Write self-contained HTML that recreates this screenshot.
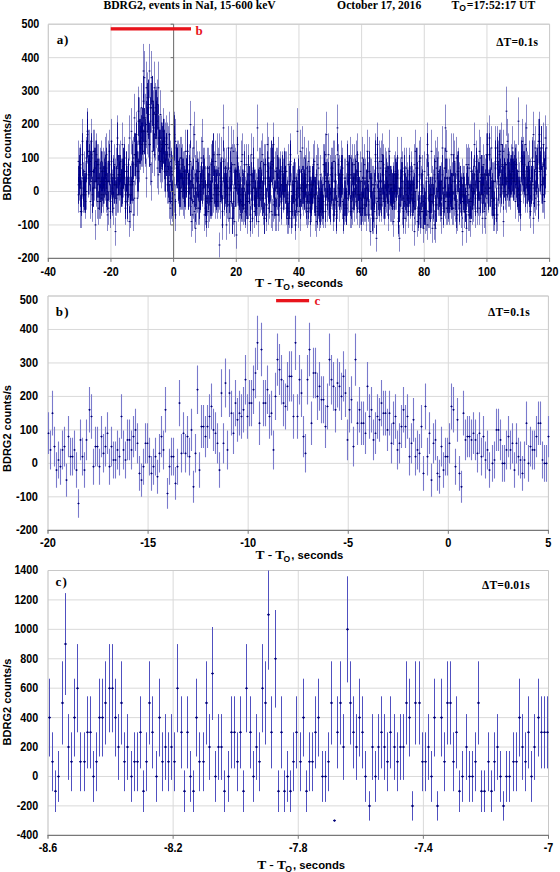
<!DOCTYPE html><html><head><meta charset="utf-8"><style>
*{margin:0;padding:0}
html,body{width:560px;height:872px;overflow:hidden;background:#fff}
svg{display:block}
.tk{font-family:"Liberation Sans",sans-serif;font-weight:bold;font-size:11px;fill:#000}
.xt{font-family:"Liberation Sans",sans-serif;font-weight:bold;font-size:11.3px;fill:#000}
.xsub{font-family:"Liberation Sans",sans-serif;font-weight:bold;font-size:8.6px;fill:#000}
.xts{font-family:"Liberation Serif",serif;font-size:13.5px}
.yt{font-family:"Liberation Sans",sans-serif;font-weight:bold;font-size:11px;fill:#000}
.pl{font-family:"Liberation Serif",serif;font-weight:bold;font-size:13px;fill:#000}
.dt{font-family:"Liberation Serif",serif;font-weight:bold;font-size:11.5px;fill:#000;letter-spacing:0.25px}
.rl{font-family:"Liberation Serif",serif;font-weight:bold;font-size:13px;fill:#e8141c}
.hd{font-family:"Liberation Serif",serif;font-weight:bold;font-size:11.65px;fill:#000}
.hsub{font-family:"Liberation Sans",sans-serif;font-weight:bold;font-size:8.6px}
.ea{stroke:#00008a;stroke-width:1;stroke-opacity:0.12;fill:none}
.ead{stroke:#000070;stroke-width:1;fill:none}
.eb{stroke:#7a7acc;stroke-width:1.1;fill:none}
.ebd{fill:#00007a;stroke:none}
.ec{stroke:#5050c0;stroke-width:1;fill:none}
.ecd{fill:#00007a;stroke:none}
</style></head><body><svg width="560" height="872" viewBox="0 0 560 872">
<rect width="560" height="872" fill="#fff"/>
<line x1="48.30" y1="224.94" x2="549.60" y2="224.94" stroke="#d9d9d9" stroke-width="1"/>
<line x1="48.30" y1="191.49" x2="549.60" y2="191.49" stroke="#d9d9d9" stroke-width="1"/>
<line x1="48.30" y1="158.03" x2="549.60" y2="158.03" stroke="#d9d9d9" stroke-width="1"/>
<line x1="48.30" y1="124.57" x2="549.60" y2="124.57" stroke="#d9d9d9" stroke-width="1"/>
<line x1="48.30" y1="91.11" x2="549.60" y2="91.11" stroke="#d9d9d9" stroke-width="1"/>
<line x1="48.30" y1="57.66" x2="549.60" y2="57.66" stroke="#d9d9d9" stroke-width="1"/>
<line x1="48.30" y1="24.20" x2="549.60" y2="24.20" stroke="#d9d9d9" stroke-width="1"/>
<line x1="110.96" y1="24.20" x2="110.96" y2="258.40" stroke="#d9d9d9" stroke-width="1"/>
<line x1="173.62" y1="24.20" x2="173.62" y2="258.40" stroke="#d9d9d9" stroke-width="1"/>
<line x1="236.29" y1="24.20" x2="236.29" y2="258.40" stroke="#d9d9d9" stroke-width="1"/>
<line x1="298.95" y1="24.20" x2="298.95" y2="258.40" stroke="#d9d9d9" stroke-width="1"/>
<line x1="361.61" y1="24.20" x2="361.61" y2="258.40" stroke="#d9d9d9" stroke-width="1"/>
<line x1="424.28" y1="24.20" x2="424.28" y2="258.40" stroke="#d9d9d9" stroke-width="1"/>
<line x1="486.94" y1="24.20" x2="486.94" y2="258.40" stroke="#d9d9d9" stroke-width="1"/>
<polyline points="48.30,24.20 549.60,24.20 549.60,258.40" fill="none" stroke="#c8c8c8" stroke-width="1"/>
<line x1="48.30" y1="24.20" x2="48.30" y2="261.40" stroke="#c8c8c8" stroke-width="1.2"/>
<line x1="48.00" y1="496.83" x2="548.40" y2="496.83" stroke="#d9d9d9" stroke-width="1"/>
<line x1="48.00" y1="463.36" x2="548.40" y2="463.36" stroke="#d9d9d9" stroke-width="1"/>
<line x1="48.00" y1="429.89" x2="548.40" y2="429.89" stroke="#d9d9d9" stroke-width="1"/>
<line x1="48.00" y1="396.41" x2="548.40" y2="396.41" stroke="#d9d9d9" stroke-width="1"/>
<line x1="48.00" y1="362.94" x2="548.40" y2="362.94" stroke="#d9d9d9" stroke-width="1"/>
<line x1="48.00" y1="329.47" x2="548.40" y2="329.47" stroke="#d9d9d9" stroke-width="1"/>
<line x1="48.00" y1="296.00" x2="548.40" y2="296.00" stroke="#d9d9d9" stroke-width="1"/>
<line x1="148.08" y1="296.00" x2="148.08" y2="530.30" stroke="#d9d9d9" stroke-width="1"/>
<line x1="248.16" y1="296.00" x2="248.16" y2="530.30" stroke="#d9d9d9" stroke-width="1"/>
<line x1="348.24" y1="296.00" x2="348.24" y2="530.30" stroke="#d9d9d9" stroke-width="1"/>
<line x1="448.32" y1="296.00" x2="448.32" y2="530.30" stroke="#d9d9d9" stroke-width="1"/>
<polyline points="48.00,296.00 548.40,296.00 548.40,530.30" fill="none" stroke="#c8c8c8" stroke-width="1"/>
<line x1="48.00" y1="296.00" x2="48.00" y2="533.30" stroke="#c8c8c8" stroke-width="1.2"/>
<line x1="48.00" y1="805.88" x2="548.50" y2="805.88" stroke="#d9d9d9" stroke-width="1"/>
<line x1="48.00" y1="776.46" x2="548.50" y2="776.46" stroke="#d9d9d9" stroke-width="1"/>
<line x1="48.00" y1="747.03" x2="548.50" y2="747.03" stroke="#d9d9d9" stroke-width="1"/>
<line x1="48.00" y1="717.61" x2="548.50" y2="717.61" stroke="#d9d9d9" stroke-width="1"/>
<line x1="48.00" y1="688.19" x2="548.50" y2="688.19" stroke="#d9d9d9" stroke-width="1"/>
<line x1="48.00" y1="658.77" x2="548.50" y2="658.77" stroke="#d9d9d9" stroke-width="1"/>
<line x1="48.00" y1="629.34" x2="548.50" y2="629.34" stroke="#d9d9d9" stroke-width="1"/>
<line x1="48.00" y1="599.92" x2="548.50" y2="599.92" stroke="#d9d9d9" stroke-width="1"/>
<line x1="48.00" y1="570.50" x2="548.50" y2="570.50" stroke="#d9d9d9" stroke-width="1"/>
<line x1="173.13" y1="570.50" x2="173.13" y2="835.30" stroke="#d9d9d9" stroke-width="1"/>
<line x1="298.25" y1="570.50" x2="298.25" y2="835.30" stroke="#d9d9d9" stroke-width="1"/>
<line x1="423.38" y1="570.50" x2="423.38" y2="835.30" stroke="#d9d9d9" stroke-width="1"/>
<polyline points="48.00,570.50 548.50,570.50 548.50,835.30" fill="none" stroke="#c8c8c8" stroke-width="1"/>
<line x1="48.00" y1="570.50" x2="48.00" y2="838.30" stroke="#c8c8c8" stroke-width="1.2"/>
<defs><filter id="fa" x="0" y="0" width="560" height="300" filterUnits="userSpaceOnUse" color-interpolation-filters="sRGB"><feComponentTransfer><feFuncA type="table" tableValues="0 0.36 0.86 1 1 1 1 1 1 1 1"/></feComponentTransfer></filter></defs>
<g filter="url(#fa)">
<path class="ea" d="M78.50 176.8V212.8M79.50 147.7V188.4M80.50 195.2V228.0M81.50 195.2V228.0M83.50 162.2V200.7M84.50 173.2V209.8M85.50 162.2V200.7M86.50 136.9V179.2M88.50 158.6V197.6M89.50 155.0V194.6M90.50 184.1V218.9M91.50 136.9V179.2M93.50 129.7V173.0M94.50 162.2V200.7M95.50 210.0V239.9M96.50 162.2V200.7M98.50 158.6V197.6M99.50 158.6V197.6M100.50 184.1V218.9M101.50 180.5V215.9M103.50 165.9V203.7M104.50 151.3V191.5M105.50 155.0V194.6M106.50 169.5V206.8M108.50 140.5V182.3M109.50 129.7V173.0M110.50 173.2V209.8M111.50 155.0V194.6M113.50 158.6V197.6M114.50 165.9V203.7M115.50 217.4V245.8M117.50 147.7V188.4M118.50 155.0V194.6M119.50 162.2V200.7M120.50 155.0V194.6M122.50 165.9V203.7M123.50 147.7V188.4M124.50 136.9V179.2M125.50 176.8V212.8M127.50 184.1V218.9M128.50 162.2V200.7M129.50 206.3V236.9M130.50 195.2V228.0M132.50 140.5V182.3M133.50 136.9V179.2M134.50 180.5V215.9M135.50 133.3V176.1M137.50 140.5V182.3M138.50 151.3V191.5M139.50 118.9V163.7M140.50 118.9V163.7M142.50 122.5V166.8M143.50 75.9V126.4M144.50 108.1V154.4M145.50 118.9V163.7M147.50 72.3V123.3M148.50 90.2V138.9M149.50 43.9V98.2M150.50 144.1V185.3M152.50 129.7V173.0M153.50 90.2V138.9M154.50 111.7V157.5M155.50 115.3V160.6M157.50 79.5V129.5M158.50 104.5V151.3M159.50 115.3V160.6M160.50 90.2V138.9M162.50 140.5V182.3M163.50 118.9V163.7M164.50 151.3V191.5M165.50 151.3V191.5M167.50 122.5V166.8M168.50 165.9V203.7M169.50 184.1V218.9M170.50 191.5V224.9M172.50 187.8V221.9M173.50 165.9V203.7M174.50 176.8V212.8M175.50 118.9V163.7M177.50 147.7V188.4M178.50 140.5V182.3M179.50 158.6V197.6M180.50 136.9V179.2M182.50 173.2V209.8M183.50 151.3V191.5M184.50 169.5V206.8M185.50 173.2V209.8M187.50 144.1V185.3M188.50 173.2V209.8M189.50 155.0V194.6M190.50 180.5V215.9M192.50 147.7V188.4M193.50 126.1V169.9M194.50 169.5V206.8M195.50 173.2V209.8M197.50 158.6V197.6M198.50 158.6V197.6M199.50 184.1V218.9M200.50 173.2V209.8M202.50 169.5V206.8M203.50 162.2V200.7M204.50 147.7V188.4M205.50 180.5V215.9M207.50 147.7V188.4M208.50 147.7V188.4M209.50 187.8V221.9M211.50 144.1V185.3M212.50 140.5V182.3M213.50 176.8V212.8M214.50 151.3V191.5M216.50 176.8V212.8M217.50 133.3V176.1M218.50 176.8V212.8M219.50 133.3V176.1M221.50 162.2V200.7M222.50 210.0V239.9M223.50 158.6V197.6M224.50 180.5V215.9M226.50 173.2V209.8M227.50 162.2V200.7M228.50 126.1V169.9M229.50 202.6V233.9M231.50 162.2V200.7M232.50 202.6V233.9M233.50 191.5V224.9M234.50 206.3V236.9M236.50 151.3V191.5M237.50 155.0V194.6M238.50 165.9V203.7M239.50 173.2V209.8M241.50 187.8V221.9M242.50 187.8V221.9M243.50 173.2V209.8M244.50 187.8V221.9M246.50 180.5V215.9M247.50 173.2V209.8M248.50 155.0V194.6M249.50 165.9V203.7M251.50 133.3V176.1M252.50 187.8V221.9M253.50 136.9V179.2M254.50 169.5V206.8M256.50 191.5V224.9M257.50 158.6V197.6M258.50 169.5V206.8M259.50 180.5V215.9M261.50 140.5V182.3M262.50 180.5V215.9M263.50 191.5V224.9M264.50 202.6V233.9M266.50 187.8V221.9M267.50 122.5V166.8M268.50 165.9V203.7M269.50 184.1V218.9M271.50 140.5V182.3M272.50 198.9V231.0M273.50 187.8V221.9M274.50 180.5V215.9M276.50 169.5V206.8M277.50 155.0V194.6M278.50 158.6V197.6M279.50 187.8V221.9M281.50 184.1V218.9M282.50 162.2V200.7M283.50 158.6V197.6M284.50 147.7V188.4M286.50 151.3V191.5M287.50 180.5V215.9M288.50 144.1V185.3M289.50 195.2V228.0M291.50 202.6V233.9M292.50 180.5V215.9M293.50 184.1V218.9M294.50 180.5V215.9M296.50 187.8V221.9M297.50 169.5V206.8M298.50 155.0V194.6M299.50 165.9V203.7M301.50 169.5V206.8M302.50 165.9V203.7M303.50 180.5V215.9M304.50 136.9V179.2M306.50 184.1V218.9M307.50 165.9V203.7M308.50 140.5V182.3M310.50 206.3V236.9M311.50 180.5V215.9M312.50 165.9V203.7M313.50 158.6V197.6M315.50 180.5V215.9M316.50 206.3V236.9M317.50 195.2V228.0M318.50 184.1V218.9M320.50 195.2V228.0M321.50 187.8V221.9M322.50 184.1V218.9M323.50 184.1V218.9M325.50 187.8V221.9M326.50 111.7V157.5M327.50 173.2V209.8M328.50 162.2V200.7M330.50 191.5V224.9M331.50 147.7V188.4M332.50 147.7V188.4M333.50 140.5V182.3M335.50 162.2V200.7M336.50 180.5V215.9M337.50 133.3V176.1M338.50 144.1V185.3M340.50 169.5V206.8M341.50 173.2V209.8M342.50 155.0V194.6M343.50 202.6V233.9M345.50 180.5V215.9M346.50 187.8V221.9M347.50 140.5V182.3M348.50 176.8V212.8M350.50 180.5V215.9M351.50 195.2V228.0M352.50 144.1V185.3M353.50 176.8V212.8M355.50 165.9V203.7M356.50 184.1V218.9M357.50 151.3V191.5M358.50 162.2V200.7M360.50 151.3V191.5M361.50 198.9V231.0M362.50 180.5V215.9M363.50 158.6V197.6M365.50 158.6V197.6M366.50 198.9V231.0M367.50 180.5V215.9M368.50 187.8V221.9M370.50 217.4V245.8M371.50 173.2V209.8M372.50 191.5V224.9M373.50 187.8V221.9M375.50 165.9V203.7M376.50 202.6V233.9M377.50 122.5V166.8M378.50 173.2V209.8M380.50 176.8V212.8M381.50 187.8V221.9M382.50 133.3V176.1M383.50 162.2V200.7M385.50 147.7V188.4M386.50 176.8V212.8M387.50 162.2V200.7M388.50 147.7V188.4M390.50 165.9V203.7M391.50 187.8V221.9M392.50 173.2V209.8M393.50 165.9V203.7M395.50 151.3V191.5M396.50 162.2V200.7M397.50 155.0V194.6M398.50 169.5V206.8M400.50 158.6V197.6M401.50 162.2V200.7M402.50 151.3V191.5M404.50 184.1V218.9M405.50 202.6V233.9M406.50 176.8V212.8M407.50 180.5V215.9M409.50 165.9V203.7M410.50 180.5V215.9M411.50 162.2V200.7M412.50 165.9V203.7M414.50 173.2V209.8M415.50 173.2V209.8M416.50 147.7V188.4M417.50 162.2V200.7M419.50 180.5V215.9M420.50 195.2V228.0M421.50 165.9V203.7M422.50 169.5V206.8M424.50 151.3V191.5M425.50 191.5V224.9M426.50 198.9V231.0M427.50 122.5V166.8M429.50 184.1V218.9M430.50 176.8V212.8M431.50 176.8V212.8M432.50 165.9V203.7M434.50 210.0V239.9M435.50 180.5V215.9M436.50 147.7V188.4M437.50 173.2V209.8M439.50 169.5V206.8M440.50 165.9V203.7M441.50 202.6V233.9M442.50 155.0V194.6M444.50 180.5V215.9M445.50 147.7V188.4M446.50 158.6V197.6M447.50 176.8V212.8M449.50 176.8V212.8M450.50 165.9V203.7M451.50 184.1V218.9M452.50 173.2V209.8M454.50 180.5V215.9M455.50 173.2V209.8M456.50 184.1V218.9M457.50 151.3V191.5M459.50 187.8V221.9M460.50 176.8V212.8M461.50 195.2V228.0M462.50 158.6V197.6M464.50 176.8V212.8M465.50 187.8V221.9M466.50 144.1V185.3M467.50 165.9V203.7M469.50 147.7V188.4M470.50 180.5V215.9M471.50 151.3V191.5M472.50 191.5V224.9M474.50 155.0V194.6M475.50 195.2V228.0M476.50 151.3V191.5M477.50 155.0V194.6M479.50 129.7V173.0M480.50 136.9V179.2M481.50 165.9V203.7M482.50 155.0V194.6M484.50 155.0V194.6M485.50 158.6V197.6M486.50 180.5V215.9M487.50 133.3V176.1M489.50 133.3V176.1M490.50 169.5V206.8M491.50 126.1V169.9M492.50 162.2V200.7M494.50 191.5V224.9M495.50 126.1V169.9M496.50 180.5V215.9M497.50 126.1V169.9M499.50 133.3V176.1M500.50 158.6V197.6M501.50 169.5V206.8M503.50 173.2V209.8M504.50 158.6V197.6M505.50 144.1V185.3M506.50 144.1V185.3M508.50 169.5V206.8M509.50 151.3V191.5M510.50 155.0V194.6M511.50 144.1V185.3M513.50 162.2V200.7M514.50 140.5V182.3M515.50 147.7V188.4M516.50 144.1V185.3M518.50 176.8V212.8M519.50 180.5V215.9M520.50 198.9V231.0M521.50 136.9V179.2M523.50 151.3V191.5M524.50 155.0V194.6M525.50 176.8V212.8M526.50 147.7V188.4M528.50 155.0V194.6M529.50 165.9V203.7M530.50 180.5V215.9M531.50 169.5V206.8M533.50 111.7V157.5M534.50 140.5V182.3M535.50 126.1V169.9M536.50 155.0V194.6M538.50 184.1V218.9M539.50 126.1V169.9M540.50 155.0V194.6M541.50 126.1V169.9M543.50 144.1V185.3M544.50 151.3V191.5M545.50 147.7V188.4"/>
<path class="ea" d="M78.50 140.5V182.3M79.50 162.2V200.7M80.50 169.5V206.8M82.50 133.3V176.1M83.50 169.5V206.8M84.50 151.3V191.5M85.50 176.8V212.8M87.50 111.7V157.5M88.50 155.0V194.6M89.50 144.1V185.3M91.50 162.2V200.7M92.50 151.3V191.5M93.50 169.5V206.8M94.50 147.7V188.4M96.50 133.3V176.1M97.50 158.6V197.6M98.50 144.1V185.3M99.50 173.2V209.8M101.50 140.5V182.3M102.50 151.3V191.5M103.50 176.8V212.8M104.50 158.6V197.6M106.50 176.8V212.8M107.50 162.2V200.7M108.50 162.2V200.7M109.50 162.2V200.7M111.50 140.5V182.3M112.50 180.5V215.9M113.50 155.0V194.6M114.50 165.9V203.7M116.50 147.7V188.4M117.50 115.3V160.6M118.50 155.0V194.6M119.50 155.0V194.6M121.50 169.5V206.8M122.50 122.5V166.8M123.50 147.7V188.4M124.50 151.3V191.5M126.50 151.3V191.5M127.50 176.8V212.8M128.50 144.1V185.3M129.50 176.8V212.8M131.50 176.8V212.8M132.50 162.2V200.7M133.50 198.9V231.0M134.50 133.3V176.1M136.50 122.5V166.8M137.50 151.3V191.5M138.50 86.6V135.8M139.50 140.5V182.3M141.50 122.5V166.8M142.50 108.1V154.4M143.50 43.9V98.2M144.50 108.1V154.4M146.50 158.6V197.6M147.50 83.0V132.7M148.50 79.5V129.5M149.50 122.5V166.8M151.50 162.2V200.7M152.50 75.9V126.4M153.50 104.5V151.3M154.50 61.6V113.9M156.50 86.6V135.8M157.50 97.3V145.1M158.50 155.0V194.6M159.50 129.7V173.0M161.50 122.5V166.8M162.50 122.5V166.8M163.50 118.9V163.7M164.50 129.7V173.0M166.50 133.3V176.1M167.50 165.9V203.7M168.50 158.6V197.6M169.50 111.7V157.5M171.50 151.3V191.5M172.50 155.0V194.6M173.50 151.3V191.5M174.50 126.1V169.9M176.50 147.7V188.4M177.50 140.5V182.3M178.50 165.9V203.7M179.50 180.5V215.9M181.50 136.9V179.2M182.50 158.6V197.6M183.50 180.5V215.9M184.50 184.1V218.9M186.50 155.0V194.6M187.50 129.7V173.0M188.50 173.2V209.8M190.50 140.5V182.3M191.50 169.5V206.8M192.50 165.9V203.7M193.50 158.6V197.6M195.50 187.8V221.9M196.50 169.5V206.8M197.50 176.8V212.8M198.50 162.2V200.7M200.50 173.2V209.8M201.50 136.9V179.2M202.50 165.9V203.7M203.50 147.7V188.4M205.50 180.5V215.9M206.50 206.3V236.9M207.50 180.5V215.9M208.50 173.2V209.8M210.50 184.1V218.9M211.50 184.1V218.9M212.50 180.5V215.9M213.50 133.3V176.1M215.50 184.1V218.9M216.50 165.9V203.7M217.50 169.5V206.8M218.50 169.5V206.8M220.50 158.6V197.6M221.50 158.6V197.6M222.50 195.2V228.0M223.50 140.5V182.3M225.50 158.6V197.6M226.50 147.7V188.4M227.50 184.1V218.9M228.50 147.7V188.4M230.50 147.7V188.4M231.50 165.9V203.7M232.50 202.6V233.9M233.50 184.1V218.9M235.50 169.5V206.8M236.50 169.5V206.8M237.50 122.5V166.8M238.50 162.2V200.7M240.50 176.8V212.8M241.50 140.5V182.3M242.50 133.3V176.1M243.50 169.5V206.8M245.50 176.8V212.8M246.50 144.1V185.3M247.50 184.1V218.9M248.50 144.1V185.3M250.50 155.0V194.6M251.50 173.2V209.8M252.50 173.2V209.8M253.50 147.7V188.4M255.50 180.5V215.9M256.50 187.8V221.9M257.50 104.5V151.3M258.50 158.6V197.6M260.50 176.8V212.8M261.50 173.2V209.8M262.50 180.5V215.9M263.50 162.2V200.7M265.50 180.5V215.9M266.50 187.8V221.9M267.50 158.6V197.6M268.50 191.5V224.9M270.50 162.2V200.7M271.50 195.2V228.0M272.50 147.7V188.4M273.50 136.9V179.2M275.50 151.3V191.5M276.50 198.9V231.0M277.50 173.2V209.8M278.50 136.9V179.2M280.50 165.9V203.7M281.50 191.5V224.9M282.50 155.0V194.6M284.50 151.3V191.5M285.50 151.3V191.5M286.50 191.5V224.9M287.50 176.8V212.8M289.50 162.2V200.7M290.50 144.1V185.3M291.50 195.2V228.0M292.50 165.9V203.7M294.50 158.6V197.6M295.50 198.9V231.0M296.50 173.2V209.8M297.50 108.1V154.4M299.50 176.8V212.8M300.50 129.7V173.0M301.50 151.3V191.5M302.50 173.2V209.8M304.50 173.2V209.8M305.50 176.8V212.8M306.50 147.7V188.4M307.50 195.2V228.0M309.50 151.3V191.5M310.50 165.9V203.7M311.50 176.8V212.8M312.50 173.2V209.8M314.50 180.5V215.9M315.50 176.8V212.8M316.50 155.0V194.6M317.50 144.1V185.3M319.50 180.5V215.9M320.50 155.0V194.6M321.50 173.2V209.8M322.50 176.8V212.8M324.50 158.6V197.6M325.50 195.2V228.0M326.50 162.2V200.7M327.50 187.8V221.9M329.50 184.1V218.9M330.50 187.8V221.9M331.50 165.9V203.7M332.50 173.2V209.8M334.50 180.5V215.9M335.50 173.2V209.8M336.50 198.9V231.0M337.50 104.5V151.3M339.50 187.8V221.9M340.50 176.8V212.8M341.50 155.0V194.6M342.50 147.7V188.4M344.50 191.5V224.9M345.50 187.8V221.9M346.50 173.2V209.8M347.50 180.5V215.9M349.50 155.0V194.6M350.50 195.2V228.0M351.50 158.6V197.6M352.50 162.2V200.7M354.50 144.1V185.3M355.50 155.0V194.6M356.50 140.5V182.3M357.50 191.5V224.9M359.50 176.8V212.8M360.50 180.5V215.9M361.50 162.2V200.7M362.50 136.9V179.2M364.50 187.8V221.9M365.50 187.8V221.9M366.50 169.5V206.8M367.50 129.7V173.0M369.50 151.3V191.5M370.50 158.6V197.6M371.50 180.5V215.9M372.50 165.9V203.7M374.50 169.5V206.8M375.50 133.3V176.1M376.50 224.9V251.7M377.50 136.9V179.2M379.50 187.8V221.9M380.50 147.7V188.4M381.50 180.5V215.9M383.50 184.1V218.9M384.50 191.5V224.9M385.50 169.5V206.8M386.50 158.6V197.6M388.50 198.9V231.0M389.50 129.7V173.0M390.50 187.8V221.9M391.50 165.9V203.7M393.50 162.2V200.7M394.50 155.0V194.6M395.50 173.2V209.8M396.50 158.6V197.6M398.50 206.3V236.9M399.50 224.9V251.7M400.50 176.8V212.8M401.50 136.9V179.2M403.50 195.2V228.0M404.50 169.5V206.8M405.50 173.2V209.8M406.50 187.8V221.9M408.50 169.5V206.8M409.50 155.0V194.6M410.50 184.1V218.9M411.50 176.8V212.8M413.50 176.8V212.8M414.50 144.1V185.3M415.50 191.5V224.9M416.50 169.5V206.8M418.50 195.2V228.0M419.50 155.0V194.6M420.50 136.9V179.2M421.50 195.2V228.0M423.50 184.1V218.9M424.50 191.5V224.9M425.50 180.5V215.9M426.50 180.5V215.9M428.50 195.2V228.0M429.50 176.8V212.8M430.50 187.8V221.9M431.50 129.7V173.0M433.50 187.8V221.9M434.50 155.0V194.6M435.50 213.7V242.9M436.50 187.8V221.9M438.50 173.2V209.8M439.50 165.9V203.7M440.50 180.5V215.9M441.50 180.5V215.9M443.50 169.5V206.8M444.50 176.8V212.8M445.50 184.1V218.9M446.50 191.5V224.9M448.50 169.5V206.8M449.50 158.6V197.6M450.50 169.5V206.8M451.50 133.3V176.1M453.50 191.5V224.9M454.50 140.5V182.3M455.50 187.8V221.9M456.50 195.2V228.0M458.50 147.7V188.4M459.50 162.2V200.7M460.50 165.9V203.7M461.50 176.8V212.8M463.50 165.9V203.7M464.50 195.2V228.0M465.50 187.8V221.9M466.50 173.2V209.8M468.50 198.9V231.0M469.50 198.9V231.0M470.50 184.1V218.9M471.50 184.1V218.9M473.50 165.9V203.7M474.50 173.2V209.8M475.50 165.9V203.7M477.50 191.5V224.9M478.50 180.5V215.9M479.50 162.2V200.7M480.50 180.5V215.9M482.50 165.9V203.7M483.50 165.9V203.7M484.50 173.2V209.8M485.50 202.6V233.9M487.50 122.5V166.8M488.50 176.8V212.8M489.50 169.5V206.8M490.50 169.5V206.8M492.50 173.2V209.8M493.50 162.2V200.7M494.50 162.2V200.7M495.50 147.7V188.4M497.50 136.9V179.2M498.50 162.2V200.7M499.50 165.9V203.7M500.50 176.8V212.8M502.50 144.1V185.3M503.50 165.9V203.7M504.50 147.7V188.4M505.50 173.2V209.8M507.50 158.6V197.6M508.50 147.7V188.4M509.50 169.5V206.8M510.50 158.6V197.6M512.50 158.6V197.6M513.50 162.2V200.7M514.50 162.2V200.7M515.50 144.1V185.3M517.50 169.5V206.8M518.50 187.8V221.9M519.50 162.2V200.7M520.50 176.8V212.8M522.50 155.0V194.6M523.50 136.9V179.2M524.50 151.3V191.5M525.50 169.5V206.8M527.50 176.8V212.8M528.50 162.2V200.7M529.50 169.5V206.8M530.50 195.2V228.0M532.50 140.5V182.3M533.50 202.6V233.9M534.50 176.8V212.8M535.50 180.5V215.9M537.50 147.7V188.4M538.50 187.8V221.9M539.50 118.9V163.7M540.50 151.3V191.5M542.50 165.9V203.7M543.50 122.5V166.8M544.50 158.6V197.6M545.50 115.3V160.6"/>
<path class="ea" d="M78.50 165.9V203.7M80.50 147.7V188.4M81.50 176.8V212.8M82.50 118.9V163.7M83.50 176.8V212.8M85.50 173.2V209.8M86.50 173.2V209.8M87.50 108.1V154.4M88.50 129.7V173.0M90.50 151.3V191.5M91.50 118.9V163.7M92.50 176.8V212.8M93.50 169.5V206.8M95.50 147.7V188.4M96.50 169.5V206.8M97.50 184.1V218.9M98.50 191.5V224.9M100.50 147.7V188.4M101.50 151.3V191.5M102.50 169.5V206.8M103.50 147.7V188.4M105.50 162.2V200.7M106.50 133.3V176.1M107.50 173.2V209.8M108.50 191.5V224.9M110.50 195.2V228.0M111.50 158.6V197.6M112.50 169.5V206.8M113.50 191.5V224.9M115.50 158.6V197.6M116.50 165.9V203.7M117.50 122.5V166.8M118.50 176.8V212.8M120.50 140.5V182.3M121.50 169.5V206.8M122.50 158.6V197.6M123.50 158.6V197.6M125.50 184.1V218.9M126.50 151.3V191.5M127.50 165.9V203.7M128.50 158.6V197.6M130.50 165.9V203.7M131.50 108.1V154.4M132.50 144.1V185.3M133.50 162.2V200.7M135.50 133.3V176.1M136.50 111.7V157.5M137.50 180.5V215.9M138.50 158.6V197.6M140.50 108.1V154.4M141.50 115.3V160.6M142.50 108.1V154.4M143.50 129.7V173.0M145.50 93.8V142.0M146.50 100.9V148.2M147.50 108.1V154.4M148.50 79.5V129.5M150.50 83.0V132.7M151.50 83.0V132.7M152.50 75.9V126.4M153.50 104.5V151.3M155.50 83.0V132.7M156.50 90.2V138.9M157.50 147.7V188.4M158.50 61.6V113.9M160.50 129.7V173.0M161.50 115.3V160.6M162.50 126.1V169.9M164.50 136.9V179.2M165.50 122.5V166.8M166.50 115.3V160.6M167.50 151.3V191.5M169.50 162.2V200.7M170.50 165.9V203.7M171.50 147.7V188.4M172.50 180.5V215.9M174.50 111.7V157.5M175.50 184.1V218.9M176.50 144.1V185.3M177.50 147.7V188.4M179.50 144.1V185.3M180.50 173.2V209.8M181.50 147.7V188.4M182.50 144.1V185.3M184.50 151.3V191.5M185.50 169.5V206.8M186.50 158.6V197.6M187.50 129.7V173.0M189.50 144.1V185.3M190.50 100.9V148.2M191.50 206.3V236.9M192.50 198.9V231.0M194.50 111.7V157.5M195.50 155.0V194.6M196.50 140.5V182.3M197.50 151.3V191.5M199.50 191.5V224.9M200.50 165.9V203.7M201.50 162.2V200.7M202.50 118.9V163.7M204.50 158.6V197.6M205.50 191.5V224.9M206.50 184.1V218.9M207.50 165.9V203.7M209.50 155.0V194.6M210.50 180.5V215.9M211.50 180.5V215.9M212.50 140.5V182.3M214.50 169.5V206.8M215.50 140.5V182.3M216.50 173.2V209.8M217.50 184.1V218.9M219.50 232.5V257.5M220.50 162.2V200.7M221.50 136.9V179.2M222.50 180.5V215.9M224.50 173.2V209.8M225.50 169.5V206.8M226.50 210.0V239.9M227.50 169.5V206.8M229.50 176.8V212.8M230.50 184.1V218.9M231.50 169.5V206.8M232.50 144.1V185.3M234.50 169.5V206.8M235.50 147.7V188.4M236.50 221.2V248.8M237.50 165.9V203.7M239.50 184.1V218.9M240.50 198.9V231.0M241.50 184.1V218.9M242.50 169.5V206.8M244.50 144.1V185.3M245.50 191.5V224.9M246.50 184.1V218.9M247.50 202.6V233.9M249.50 165.9V203.7M250.50 198.9V231.0M251.50 162.2V200.7M252.50 202.6V233.9M254.50 169.5V206.8M255.50 180.5V215.9M256.50 173.2V209.8M258.50 206.3V236.9M259.50 147.7V188.4M260.50 162.2V200.7M261.50 169.5V206.8M263.50 176.8V212.8M264.50 144.1V185.3M265.50 158.6V197.6M266.50 198.9V231.0M268.50 136.9V179.2M269.50 162.2V200.7M270.50 147.7V188.4M271.50 140.5V182.3M273.50 122.5V166.8M274.50 184.1V218.9M275.50 198.9V231.0M276.50 147.7V188.4M278.50 180.5V215.9M279.50 169.5V206.8M280.50 151.3V191.5M281.50 165.9V203.7M283.50 173.2V209.8M284.50 173.2V209.8M285.50 165.9V203.7M286.50 184.1V218.9M288.50 191.5V224.9M289.50 184.1V218.9M290.50 133.3V176.1M291.50 173.2V209.8M293.50 162.2V200.7M294.50 184.1V218.9M295.50 210.0V239.9M296.50 176.8V212.8M298.50 195.2V228.0M299.50 169.5V206.8M300.50 198.9V231.0M301.50 169.5V206.8M303.50 165.9V203.7M304.50 169.5V206.8M305.50 158.6V197.6M306.50 191.5V224.9M308.50 184.1V218.9M309.50 176.8V212.8M310.50 176.8V212.8M311.50 187.8V221.9M313.50 165.9V203.7M314.50 176.8V212.8M315.50 198.9V231.0M316.50 169.5V206.8M318.50 180.5V215.9M319.50 198.9V231.0M320.50 191.5V224.9M321.50 180.5V215.9M323.50 195.2V228.0M324.50 144.1V185.3M325.50 162.2V200.7M326.50 158.6V197.6M328.50 180.5V215.9M329.50 176.8V212.8M330.50 155.0V194.6M331.50 162.2V200.7M333.50 198.9V231.0M334.50 187.8V221.9M335.50 155.0V194.6M336.50 202.6V233.9M338.50 169.5V206.8M339.50 155.0V194.6M340.50 165.9V203.7M341.50 140.5V182.3M343.50 187.8V221.9M344.50 180.5V215.9M345.50 158.6V197.6M346.50 191.5V224.9M348.50 155.0V194.6M349.50 158.6V197.6M350.50 136.9V179.2M351.50 184.1V218.9M353.50 158.6V197.6M354.50 187.8V221.9M355.50 158.6V197.6M357.50 176.8V212.8M358.50 173.2V209.8M359.50 195.2V228.0M360.50 191.5V224.9M362.50 187.8V221.9M363.50 191.5V224.9M364.50 180.5V215.9M365.50 180.5V215.9M367.50 151.3V191.5M368.50 162.2V200.7M369.50 136.9V179.2M370.50 173.2V209.8M372.50 202.6V233.9M373.50 165.9V203.7M374.50 173.2V209.8M375.50 140.5V182.3M377.50 147.7V188.4M378.50 180.5V215.9M379.50 140.5V182.3M380.50 173.2V209.8M382.50 169.5V206.8M383.50 144.1V185.3M384.50 180.5V215.9M385.50 184.1V218.9M387.50 180.5V215.9M388.50 184.1V218.9M389.50 155.0V194.6M390.50 165.9V203.7M392.50 191.5V224.9M393.50 206.3V236.9M394.50 173.2V209.8M395.50 158.6V197.6M397.50 158.6V197.6M398.50 202.6V233.9M399.50 187.8V221.9M400.50 169.5V206.8M402.50 162.2V200.7M403.50 180.5V215.9M404.50 155.0V194.6M405.50 165.9V203.7M407.50 162.2V200.7M408.50 180.5V215.9M409.50 147.7V188.4M410.50 165.9V203.7M412.50 180.5V215.9M413.50 180.5V215.9M414.50 184.1V218.9M415.50 129.7V173.0M417.50 206.3V236.9M418.50 198.9V231.0M419.50 140.5V182.3M420.50 202.6V233.9M422.50 155.0V194.6M423.50 195.2V228.0M424.50 187.8V221.9M425.50 202.6V233.9M427.50 133.3V176.1M428.50 155.0V194.6M429.50 195.2V228.0M430.50 202.6V233.9M432.50 213.7V242.9M433.50 184.1V218.9M434.50 158.6V197.6M435.50 195.2V228.0M437.50 136.9V179.2M438.50 151.3V191.5M439.50 180.5V215.9M440.50 187.8V221.9M442.50 169.5V206.8M443.50 191.5V224.9M444.50 147.7V188.4M445.50 104.5V151.3M447.50 158.6V197.6M448.50 187.8V221.9M449.50 191.5V224.9M451.50 173.2V209.8M452.50 162.2V200.7M453.50 133.3V176.1M454.50 162.2V200.7M456.50 136.9V179.2M457.50 155.0V194.6M458.50 151.3V191.5M459.50 191.5V224.9M461.50 173.2V209.8M462.50 217.4V245.8M463.50 173.2V209.8M464.50 165.9V203.7M466.50 195.2V228.0M467.50 147.7V188.4M468.50 144.1V185.3M469.50 184.1V218.9M471.50 151.3V191.5M472.50 173.2V209.8M473.50 158.6V197.6M474.50 122.5V166.8M476.50 140.5V182.3M477.50 169.5V206.8M478.50 158.6V197.6M479.50 191.5V224.9M481.50 155.0V194.6M482.50 176.8V212.8M483.50 176.8V212.8M484.50 195.2V228.0M486.50 155.0V194.6M487.50 155.0V194.6M488.50 173.2V209.8M489.50 115.3V160.6M491.50 158.6V197.6M492.50 180.5V215.9M493.50 180.5V215.9M494.50 198.9V231.0M496.50 187.8V221.9M497.50 144.1V185.3M498.50 140.5V182.3M499.50 129.7V173.0M501.50 165.9V203.7M502.50 144.1V185.3M503.50 129.7V173.0M504.50 158.6V197.6M506.50 176.8V212.8M507.50 162.2V200.7M508.50 155.0V194.6M509.50 162.2V200.7M511.50 158.6V197.6M512.50 151.3V191.5M513.50 158.6V197.6M514.50 155.0V194.6M516.50 158.6V197.6M517.50 169.5V206.8M518.50 151.3V191.5M519.50 176.8V212.8M521.50 151.3V191.5M522.50 118.9V163.7M523.50 165.9V203.7M524.50 158.6V197.6M526.50 104.5V151.3M527.50 151.3V191.5M528.50 162.2V200.7M529.50 184.1V218.9M531.50 165.9V203.7M532.50 162.2V200.7M533.50 165.9V203.7M534.50 169.5V206.8M536.50 173.2V209.8M537.50 158.6V197.6M538.50 118.9V163.7M539.50 111.7V157.5M541.50 126.1V169.9M542.50 162.2V200.7M543.50 176.8V212.8M544.50 184.1V218.9M546.50 126.1V169.9"/>
<path class="ea" d="M79.50 155.0V194.6M80.50 144.1V185.3M81.50 180.5V215.9M82.50 158.6V197.6M84.50 176.8V212.8M85.50 184.1V218.9M86.50 140.5V182.3M87.50 118.9V163.7M89.50 129.7V173.0M90.50 140.5V182.3M91.50 133.3V176.1M92.50 187.8V221.9M94.50 129.7V173.0M95.50 140.5V182.3M96.50 140.5V182.3M97.50 144.1V185.3M99.50 184.1V218.9M100.50 162.2V200.7M101.50 176.8V212.8M102.50 162.2V200.7M104.50 165.9V203.7M105.50 136.9V179.2M106.50 147.7V188.4M107.50 198.9V231.0M109.50 144.1V185.3M110.50 184.1V218.9M111.50 118.9V163.7M112.50 176.8V212.8M114.50 144.1V185.3M115.50 180.5V215.9M116.50 180.5V215.9M117.50 176.8V212.8M119.50 144.1V185.3M120.50 176.8V212.8M121.50 158.6V197.6M122.50 169.5V206.8M124.50 144.1V185.3M125.50 191.5V224.9M126.50 165.9V203.7M127.50 187.8V221.9M129.50 115.3V160.6M130.50 165.9V203.7M131.50 162.2V200.7M132.50 165.9V203.7M134.50 93.8V142.0M135.50 144.1V185.3M136.50 136.9V179.2M138.50 97.3V145.1M139.50 97.3V145.1M140.50 126.1V169.9M141.50 83.0V132.7M143.50 93.8V142.0M144.50 51.0V104.5M145.50 122.5V166.8M146.50 61.6V113.9M148.50 111.7V157.5M149.50 122.5V166.8M150.50 97.3V145.1M151.50 51.0V104.5M153.50 100.9V148.2M154.50 133.3V176.1M155.50 90.2V138.9M156.50 100.9V148.2M158.50 115.3V160.6M159.50 129.7V173.0M160.50 140.5V182.3M161.50 147.7V188.4M163.50 108.1V154.4M164.50 118.9V163.7M165.50 158.6V197.6M166.50 133.3V176.1M168.50 126.1V169.9M169.50 133.3V176.1M170.50 140.5V182.3M171.50 184.1V218.9M173.50 165.9V203.7M174.50 115.3V160.6M175.50 198.9V231.0M176.50 144.1V185.3M178.50 162.2V200.7M179.50 169.5V206.8M180.50 169.5V206.8M181.50 173.2V209.8M183.50 158.6V197.6M184.50 165.9V203.7M185.50 129.7V173.0M186.50 158.6V197.6M188.50 169.5V206.8M189.50 169.5V206.8M190.50 180.5V215.9M191.50 162.2V200.7M193.50 184.1V218.9M194.50 195.2V228.0M195.50 213.7V242.9M196.50 191.5V224.9M198.50 191.5V224.9M199.50 151.3V191.5M200.50 176.8V212.8M201.50 162.2V200.7M203.50 155.0V194.6M204.50 198.9V231.0M205.50 165.9V203.7M206.50 195.2V228.0M208.50 195.2V228.0M209.50 165.9V203.7M210.50 162.2V200.7M211.50 158.6V197.6M213.50 133.3V176.1M214.50 165.9V203.7M215.50 169.5V206.8M216.50 169.5V206.8M218.50 147.7V188.4M219.50 173.2V209.8M220.50 184.1V218.9M221.50 165.9V203.7M223.50 104.5V151.3M224.50 147.7V188.4M225.50 165.9V203.7M226.50 176.8V212.8M228.50 187.8V221.9M229.50 169.5V206.8M230.50 151.3V191.5M231.50 126.1V169.9M233.50 129.7V173.0M234.50 144.1V185.3M235.50 169.5V206.8M237.50 136.9V179.2M238.50 187.8V221.9M239.50 169.5V206.8M240.50 165.9V203.7M242.50 176.8V212.8M243.50 191.5V224.9M244.50 151.3V191.5M245.50 195.2V228.0M247.50 165.9V203.7M248.50 184.1V218.9M249.50 180.5V215.9M250.50 206.3V236.9M252.50 169.5V206.8M253.50 162.2V200.7M254.50 195.2V228.0M255.50 169.5V206.8M257.50 180.5V215.9M258.50 169.5V206.8M259.50 169.5V206.8M260.50 147.7V188.4M262.50 133.3V176.1M263.50 158.6V197.6M264.50 202.6V233.9M265.50 144.1V185.3M267.50 151.3V191.5M268.50 162.2V200.7M269.50 176.8V212.8M270.50 165.9V203.7M272.50 144.1V185.3M273.50 158.6V197.6M274.50 169.5V206.8M275.50 180.5V215.9M277.50 147.7V188.4M278.50 198.9V231.0M279.50 158.6V197.6M280.50 158.6V197.6M282.50 151.3V191.5M283.50 176.8V212.8M284.50 158.6V197.6M285.50 165.9V203.7M287.50 202.6V233.9M288.50 202.6V233.9M289.50 165.9V203.7M290.50 140.5V182.3M292.50 195.2V228.0M293.50 165.9V203.7M294.50 158.6V197.6M295.50 162.2V200.7M297.50 180.5V215.9M298.50 158.6V197.6M299.50 169.5V206.8M300.50 184.1V218.9M302.50 126.1V169.9M303.50 158.6V197.6M304.50 173.2V209.8M305.50 155.0V194.6M307.50 162.2V200.7M308.50 191.5V224.9M309.50 165.9V203.7M310.50 191.5V224.9M312.50 165.9V203.7M313.50 144.1V185.3M314.50 140.5V182.3M315.50 176.8V212.8M317.50 191.5V224.9M318.50 147.7V188.4M319.50 187.8V221.9M320.50 176.8V212.8M322.50 191.5V224.9M323.50 144.1V185.3M324.50 151.3V191.5M325.50 133.3V176.1M327.50 158.6V197.6M328.50 133.3V176.1M329.50 184.1V218.9M331.50 169.5V206.8M332.50 162.2V200.7M333.50 187.8V221.9M334.50 140.5V182.3M336.50 195.2V228.0M337.50 184.1V218.9M338.50 158.6V197.6M339.50 173.2V209.8M341.50 158.6V197.6M342.50 184.1V218.9M343.50 198.9V231.0M344.50 158.6V197.6M346.50 191.5V224.9M347.50 144.1V185.3M348.50 162.2V200.7M349.50 155.0V194.6M351.50 155.0V194.6M352.50 191.5V224.9M353.50 173.2V209.8M354.50 173.2V209.8M356.50 169.5V206.8M357.50 133.3V176.1M358.50 162.2V200.7M359.50 176.8V212.8M361.50 191.5V224.9M362.50 176.8V212.8M363.50 158.6V197.6M364.50 144.1V185.3M366.50 169.5V206.8M367.50 162.2V200.7M368.50 184.1V218.9M369.50 198.9V231.0M371.50 158.6V197.6M372.50 198.9V231.0M373.50 202.6V233.9M374.50 195.2V228.0M376.50 180.5V215.9M377.50 184.1V218.9M378.50 162.2V200.7M379.50 180.5V215.9M381.50 140.5V182.3M382.50 155.0V194.6M383.50 155.0V194.6M384.50 184.1V218.9M386.50 151.3V191.5M387.50 165.9V203.7M388.50 165.9V203.7M389.50 173.2V209.8M391.50 169.5V206.8M392.50 173.2V209.8M393.50 169.5V206.8M394.50 184.1V218.9M396.50 173.2V209.8M397.50 136.9V179.2M398.50 195.2V228.0M399.50 187.8V221.9M401.50 169.5V206.8M402.50 191.5V224.9M403.50 202.6V233.9M404.50 147.7V188.4M406.50 147.7V188.4M407.50 169.5V206.8M408.50 195.2V228.0M409.50 169.5V206.8M411.50 151.3V191.5M412.50 198.9V231.0M413.50 169.5V206.8M414.50 217.4V245.8M416.50 147.7V188.4M417.50 147.7V188.4M418.50 191.5V224.9M419.50 191.5V224.9M421.50 173.2V209.8M422.50 195.2V228.0M423.50 213.7V242.9M424.50 191.5V224.9M426.50 158.6V197.6M427.50 210.0V239.9M428.50 162.2V200.7M430.50 176.8V212.8M431.50 184.1V218.9M432.50 176.8V212.8M433.50 169.5V206.8M435.50 140.5V182.3M436.50 187.8V221.9M437.50 158.6V197.6M438.50 180.5V215.9M440.50 165.9V203.7M441.50 162.2V200.7M442.50 126.1V169.9M443.50 195.2V228.0M445.50 158.6V197.6M446.50 129.7V173.0M447.50 191.5V224.9M448.50 184.1V218.9M450.50 176.8V212.8M451.50 173.2V209.8M452.50 191.5V224.9M453.50 155.0V194.6M455.50 162.2V200.7M456.50 202.6V233.9M457.50 198.9V231.0M458.50 173.2V209.8M460.50 165.9V203.7M461.50 180.5V215.9M462.50 184.1V218.9M463.50 176.8V212.8M465.50 184.1V218.9M466.50 213.7V242.9M467.50 169.5V206.8M468.50 176.8V212.8M470.50 206.3V236.9M471.50 184.1V218.9M472.50 169.5V206.8M473.50 187.8V221.9M475.50 180.5V215.9M476.50 147.7V188.4M477.50 176.8V212.8M478.50 162.2V200.7M480.50 176.8V212.8M481.50 155.0V194.6M482.50 202.6V233.9M483.50 144.1V185.3M485.50 169.5V206.8M486.50 133.3V176.1M487.50 165.9V203.7M488.50 169.5V206.8M490.50 147.7V188.4M491.50 180.5V215.9M492.50 184.1V218.9M493.50 198.9V231.0M495.50 140.5V182.3M496.50 202.6V233.9M497.50 198.9V231.0M498.50 169.5V206.8M500.50 129.7V173.0M501.50 122.5V166.8M502.50 155.0V194.6M503.50 206.3V236.9M505.50 162.2V200.7M506.50 86.6V135.8M507.50 118.9V163.7M508.50 133.3V176.1M510.50 173.2V209.8M511.50 155.0V194.6M512.50 126.1V169.9M513.50 151.3V191.5M515.50 184.1V218.9M516.50 162.2V200.7M517.50 173.2V209.8M518.50 97.3V145.1M520.50 184.1V218.9M521.50 140.5V182.3M522.50 144.1V185.3M524.50 144.1V185.3M525.50 122.5V166.8M526.50 165.9V203.7M527.50 165.9V203.7M529.50 140.5V182.3M530.50 158.6V197.6M531.50 165.9V203.7M532.50 136.9V179.2M534.50 169.5V206.8M535.50 151.3V191.5M536.50 147.7V188.4M537.50 144.1V185.3M539.50 151.3V191.5M540.50 147.7V188.4M541.50 165.9V203.7M542.50 176.8V212.8M544.50 158.6V197.6M545.50 155.0V194.6"/>
</g>
<path class="ead" d="M77.60 194.8h1.8M77.60 161.4h1.8M77.60 184.8h1.8M78.60 174.8h1.8M78.60 168.1h1.8M78.60 181.4h1.8M79.60 168.1h1.8M79.60 164.7h1.8M79.60 211.6h1.8M79.60 188.1h1.8M80.60 194.8h1.8M80.60 198.2h1.8M80.60 211.6h1.8M81.60 154.7h1.8M81.60 141.3h1.8M81.60 178.1h1.8M82.60 181.4h1.8M82.60 188.1h1.8M82.60 194.8h1.8M83.60 194.8h1.8M83.60 191.5h1.8M83.60 171.4h1.8M84.60 191.5h1.8M84.60 201.5h1.8M84.60 181.4h1.8M84.60 194.8h1.8M85.60 191.5h1.8M85.60 161.4h1.8M85.60 158.0h1.8M86.60 134.6h1.8M86.60 131.3h1.8M86.60 141.3h1.8M87.60 178.1h1.8M87.60 174.8h1.8M87.60 151.3h1.8M88.60 151.3h1.8M88.60 174.8h1.8M88.60 164.7h1.8M89.60 171.4h1.8M89.60 161.4h1.8M89.60 201.5h1.8M90.60 181.4h1.8M90.60 141.3h1.8M90.60 154.7h1.8M90.60 158.0h1.8M91.60 171.4h1.8M91.60 194.8h1.8M91.60 204.9h1.8M92.60 151.3h1.8M92.60 188.1h1.8M92.60 188.1h1.8M93.60 151.3h1.8M93.60 181.4h1.8M93.60 168.1h1.8M94.60 168.1h1.8M94.60 161.4h1.8M94.60 224.9h1.8M95.60 154.7h1.8M95.60 188.1h1.8M95.60 161.4h1.8M95.60 181.4h1.8M96.60 178.1h1.8M96.60 201.5h1.8M96.60 164.7h1.8M97.60 178.1h1.8M97.60 164.7h1.8M97.60 208.2h1.8M98.60 201.5h1.8M98.60 178.1h1.8M98.60 191.5h1.8M99.60 168.1h1.8M99.60 181.4h1.8M99.60 201.5h1.8M100.60 161.4h1.8M100.60 171.4h1.8M100.60 194.8h1.8M100.60 198.2h1.8M101.60 171.4h1.8M101.60 188.1h1.8M101.60 181.4h1.8M102.60 184.8h1.8M102.60 194.8h1.8M102.60 168.1h1.8M103.60 184.8h1.8M103.60 171.4h1.8M103.60 178.1h1.8M104.60 181.4h1.8M104.60 158.0h1.8M104.60 174.8h1.8M105.60 194.8h1.8M105.60 154.7h1.8M105.60 168.1h1.8M105.60 188.1h1.8M106.60 181.4h1.8M106.60 191.5h1.8M106.60 214.9h1.8M107.60 161.4h1.8M107.60 181.4h1.8M107.60 208.2h1.8M108.60 164.7h1.8M108.60 151.3h1.8M108.60 181.4h1.8M109.60 211.6h1.8M109.60 201.5h1.8M109.60 191.5h1.8M110.60 161.4h1.8M110.60 178.1h1.8M110.60 141.3h1.8M110.60 174.8h1.8M111.60 198.2h1.8M111.60 188.1h1.8M111.60 194.8h1.8M112.60 178.1h1.8M112.60 174.8h1.8M112.60 208.2h1.8M113.60 164.7h1.8M113.60 184.8h1.8M113.60 184.8h1.8M114.60 178.1h1.8M114.60 198.2h1.8M114.60 231.6h1.8M115.60 168.1h1.8M115.60 184.8h1.8M115.60 198.2h1.8M116.60 168.1h1.8M116.60 138.0h1.8M116.60 144.6h1.8M116.60 194.8h1.8M117.60 174.8h1.8M117.60 174.8h1.8M117.60 194.8h1.8M118.60 164.7h1.8M118.60 181.4h1.8M118.60 174.8h1.8M119.60 161.4h1.8M119.60 194.8h1.8M119.60 174.8h1.8M120.60 188.1h1.8M120.60 188.1h1.8M120.60 178.1h1.8M121.60 184.8h1.8M121.60 144.6h1.8M121.60 178.1h1.8M121.60 188.1h1.8M122.60 168.1h1.8M122.60 168.1h1.8M122.60 178.1h1.8M123.60 164.7h1.8M123.60 158.0h1.8M123.60 171.4h1.8M124.60 201.5h1.8M124.60 208.2h1.8M124.60 194.8h1.8M125.60 171.4h1.8M125.60 171.4h1.8M125.60 184.8h1.8M126.60 201.5h1.8M126.60 194.8h1.8M126.60 184.8h1.8M126.60 204.9h1.8M127.60 181.4h1.8M127.60 164.7h1.8M127.60 178.1h1.8M128.60 138.0h1.8M128.60 221.6h1.8M128.60 194.8h1.8M129.60 184.8h1.8M129.60 184.8h1.8M129.60 211.6h1.8M130.60 194.8h1.8M130.60 131.3h1.8M130.60 181.4h1.8M131.60 161.4h1.8M131.60 181.4h1.8M131.60 164.7h1.8M131.60 184.8h1.8M132.60 158.0h1.8M132.60 214.9h1.8M132.60 181.4h1.8M133.60 117.9h1.8M133.60 198.2h1.8M133.60 154.7h1.8M134.60 154.7h1.8M134.60 164.7h1.8M134.60 154.7h1.8M135.60 144.6h1.8M135.60 134.6h1.8M135.60 158.0h1.8M136.60 161.4h1.8M136.60 171.4h1.8M136.60 198.2h1.8M137.60 121.2h1.8M137.60 171.4h1.8M137.60 111.2h1.8M137.60 178.1h1.8M138.60 121.2h1.8M138.60 141.3h1.8M138.60 161.4h1.8M139.60 131.3h1.8M139.60 148.0h1.8M139.60 141.3h1.8M140.60 144.6h1.8M140.60 138.0h1.8M140.60 107.8h1.8M141.60 144.6h1.8M141.60 131.3h1.8M141.60 131.3h1.8M142.60 117.9h1.8M142.60 101.2h1.8M142.60 71.0h1.8M142.60 151.3h1.8M143.60 77.7h1.8M143.60 131.3h1.8M143.60 131.3h1.8M144.60 117.9h1.8M144.60 144.6h1.8M144.60 141.3h1.8M145.60 178.1h1.8M145.60 124.6h1.8M145.60 87.8h1.8M146.60 97.8h1.8M146.60 107.8h1.8M146.60 131.3h1.8M147.60 134.6h1.8M147.60 114.5h1.8M147.60 104.5h1.8M147.60 104.5h1.8M148.60 144.6h1.8M148.60 71.0h1.8M148.60 144.6h1.8M149.60 107.8h1.8M149.60 121.2h1.8M149.60 164.7h1.8M150.60 181.4h1.8M150.60 107.8h1.8M150.60 77.7h1.8M151.60 151.3h1.8M151.60 101.2h1.8M151.60 101.2h1.8M152.60 124.6h1.8M152.60 114.5h1.8M152.60 127.9h1.8M152.60 127.9h1.8M153.60 154.7h1.8M153.60 134.6h1.8M153.60 87.8h1.8M154.60 107.8h1.8M154.60 114.5h1.8M154.60 138.0h1.8M155.60 111.2h1.8M155.60 114.5h1.8M155.60 124.6h1.8M156.60 104.5h1.8M156.60 121.2h1.8M156.60 168.1h1.8M157.60 138.0h1.8M157.60 127.9h1.8M157.60 174.8h1.8M157.60 87.8h1.8M158.60 151.3h1.8M158.60 138.0h1.8M158.60 151.3h1.8M159.60 151.3h1.8M159.60 161.4h1.8M159.60 114.5h1.8M160.60 144.6h1.8M160.60 138.0h1.8M160.60 168.1h1.8M161.60 161.4h1.8M161.60 144.6h1.8M161.60 148.0h1.8M162.60 131.3h1.8M162.60 141.3h1.8M162.60 141.3h1.8M163.60 158.0h1.8M163.60 141.3h1.8M163.60 171.4h1.8M163.60 151.3h1.8M164.60 144.6h1.8M164.60 178.1h1.8M164.60 171.4h1.8M165.60 154.7h1.8M165.60 138.0h1.8M165.60 154.7h1.8M166.60 144.6h1.8M166.60 184.8h1.8M166.60 171.4h1.8M167.60 148.0h1.8M167.60 184.8h1.8M167.60 178.1h1.8M168.60 181.4h1.8M168.60 154.7h1.8M168.60 201.5h1.8M168.60 134.6h1.8M169.60 184.8h1.8M169.60 161.4h1.8M169.60 208.2h1.8M170.60 171.4h1.8M170.60 168.1h1.8M170.60 201.5h1.8M171.60 204.9h1.8M171.60 174.8h1.8M171.60 198.2h1.8M172.60 184.8h1.8M172.60 184.8h1.8M172.60 171.4h1.8M173.60 134.6h1.8M173.60 138.0h1.8M173.60 194.8h1.8M173.60 148.0h1.8M174.60 201.5h1.8M174.60 214.9h1.8M174.60 141.3h1.8M175.60 168.1h1.8M175.60 164.7h1.8M175.60 164.7h1.8M176.60 168.1h1.8M176.60 161.4h1.8M176.60 168.1h1.8M177.60 181.4h1.8M177.60 161.4h1.8M177.60 184.8h1.8M178.60 164.7h1.8M178.60 188.1h1.8M178.60 178.1h1.8M178.60 198.2h1.8M179.60 191.5h1.8M179.60 188.1h1.8M179.60 158.0h1.8M180.60 158.0h1.8M180.60 168.1h1.8M180.60 191.5h1.8M181.60 191.5h1.8M181.60 178.1h1.8M181.60 164.7h1.8M182.60 178.1h1.8M182.60 171.4h1.8M182.60 198.2h1.8M183.60 171.4h1.8M183.60 184.8h1.8M183.60 188.1h1.8M183.60 201.5h1.8M184.60 188.1h1.8M184.60 151.3h1.8M184.60 191.5h1.8M185.60 174.8h1.8M185.60 178.1h1.8M185.60 178.1h1.8M186.60 164.7h1.8M186.60 151.3h1.8M186.60 151.3h1.8M187.60 188.1h1.8M187.60 191.5h1.8M187.60 191.5h1.8M188.60 164.7h1.8M188.60 188.1h1.8M188.60 174.8h1.8M189.60 161.4h1.8M189.60 124.6h1.8M189.60 198.2h1.8M189.60 198.2h1.8M190.60 188.1h1.8M190.60 221.6h1.8M190.60 181.4h1.8M191.60 168.1h1.8M191.60 184.8h1.8M191.60 214.9h1.8M192.60 201.5h1.8M192.60 148.0h1.8M192.60 178.1h1.8M193.60 134.6h1.8M193.60 211.6h1.8M193.60 188.1h1.8M194.60 204.9h1.8M194.60 174.8h1.8M194.60 228.3h1.8M194.60 191.5h1.8M195.60 188.1h1.8M195.60 161.4h1.8M195.60 208.2h1.8M196.60 178.1h1.8M196.60 194.8h1.8M196.60 171.4h1.8M197.60 208.2h1.8M197.60 178.1h1.8M197.60 181.4h1.8M198.60 208.2h1.8M198.60 171.4h1.8M198.60 201.5h1.8M199.60 191.5h1.8M199.60 184.8h1.8M199.60 194.8h1.8M199.60 191.5h1.8M200.60 158.0h1.8M200.60 181.4h1.8M200.60 181.4h1.8M201.60 188.1h1.8M201.60 184.8h1.8M201.60 141.3h1.8M202.60 174.8h1.8M202.60 181.4h1.8M202.60 168.1h1.8M203.60 178.1h1.8M203.60 214.9h1.8M203.60 168.1h1.8M204.60 198.2h1.8M204.60 208.2h1.8M204.60 184.8h1.8M204.60 198.2h1.8M205.60 221.6h1.8M205.60 201.5h1.8M205.60 211.6h1.8M206.60 168.1h1.8M206.60 198.2h1.8M206.60 184.8h1.8M207.60 211.6h1.8M207.60 168.1h1.8M207.60 191.5h1.8M208.60 174.8h1.8M208.60 184.8h1.8M208.60 204.9h1.8M209.60 201.5h1.8M209.60 198.2h1.8M209.60 181.4h1.8M210.60 164.7h1.8M210.60 201.5h1.8M210.60 198.2h1.8M210.60 178.1h1.8M211.60 161.4h1.8M211.60 198.2h1.8M211.60 161.4h1.8M212.60 154.7h1.8M212.60 194.8h1.8M212.60 154.7h1.8M213.60 188.1h1.8M213.60 184.8h1.8M213.60 171.4h1.8M214.60 201.5h1.8M214.60 161.4h1.8M214.60 188.1h1.8M215.60 194.8h1.8M215.60 184.8h1.8M215.60 191.5h1.8M215.60 188.1h1.8M216.60 154.7h1.8M216.60 188.1h1.8M216.60 201.5h1.8M217.60 168.1h1.8M217.60 194.8h1.8M217.60 188.1h1.8M218.60 245.0h1.8M218.60 191.5h1.8M218.60 154.7h1.8M219.60 178.1h1.8M219.60 181.4h1.8M219.60 201.5h1.8M220.60 181.4h1.8M220.60 178.1h1.8M220.60 158.0h1.8M220.60 184.8h1.8M221.60 224.9h1.8M221.60 211.6h1.8M221.60 198.2h1.8M222.60 127.9h1.8M222.60 178.1h1.8M222.60 161.4h1.8M223.60 191.5h1.8M223.60 168.1h1.8M223.60 198.2h1.8M224.60 178.1h1.8M224.60 188.1h1.8M224.60 184.8h1.8M225.60 191.5h1.8M225.60 168.1h1.8M225.60 224.9h1.8M225.60 194.8h1.8M226.60 181.4h1.8M226.60 201.5h1.8M226.60 188.1h1.8M227.60 204.9h1.8M227.60 148.0h1.8M227.60 168.1h1.8M228.60 194.8h1.8M228.60 188.1h1.8M228.60 218.3h1.8M229.60 168.1h1.8M229.60 201.5h1.8M229.60 171.4h1.8M230.60 181.4h1.8M230.60 184.8h1.8M230.60 188.1h1.8M230.60 148.0h1.8M231.60 218.3h1.8M231.60 218.3h1.8M231.60 164.7h1.8M232.60 151.3h1.8M232.60 208.2h1.8M232.60 201.5h1.8M233.60 188.1h1.8M233.60 164.7h1.8M233.60 221.6h1.8M234.60 188.1h1.8M234.60 168.1h1.8M234.60 188.1h1.8M235.60 171.4h1.8M235.60 188.1h1.8M235.60 235.0h1.8M236.60 158.0h1.8M236.60 174.8h1.8M236.60 144.6h1.8M236.60 184.8h1.8M237.60 204.9h1.8M237.60 184.8h1.8M237.60 181.4h1.8M238.60 201.5h1.8M238.60 188.1h1.8M238.60 191.5h1.8M239.60 194.8h1.8M239.60 214.9h1.8M239.60 184.8h1.8M240.60 204.9h1.8M240.60 161.4h1.8M240.60 201.5h1.8M241.60 194.8h1.8M241.60 204.9h1.8M241.60 154.7h1.8M241.60 188.1h1.8M242.60 208.2h1.8M242.60 191.5h1.8M242.60 188.1h1.8M243.60 164.7h1.8M243.60 171.4h1.8M243.60 204.9h1.8M244.60 194.8h1.8M244.60 208.2h1.8M244.60 211.6h1.8M245.60 198.2h1.8M245.60 164.7h1.8M245.60 201.5h1.8M246.60 184.8h1.8M246.60 191.5h1.8M246.60 201.5h1.8M246.60 218.3h1.8M247.60 201.5h1.8M247.60 174.8h1.8M247.60 164.7h1.8M248.60 184.8h1.8M248.60 198.2h1.8M248.60 184.8h1.8M249.60 174.8h1.8M249.60 214.9h1.8M249.60 221.6h1.8M250.60 154.7h1.8M250.60 191.5h1.8M250.60 181.4h1.8M251.60 188.1h1.8M251.60 204.9h1.8M251.60 191.5h1.8M251.60 218.3h1.8M252.60 181.4h1.8M252.60 158.0h1.8M252.60 168.1h1.8M253.60 188.1h1.8M253.60 211.6h1.8M253.60 188.1h1.8M254.60 198.2h1.8M254.60 198.2h1.8M254.60 188.1h1.8M255.60 208.2h1.8M255.60 204.9h1.8M255.60 191.5h1.8M256.60 198.2h1.8M256.60 178.1h1.8M256.60 127.9h1.8M257.60 221.6h1.8M257.60 188.1h1.8M257.60 188.1h1.8M257.60 178.1h1.8M258.60 168.1h1.8M258.60 188.1h1.8M258.60 198.2h1.8M259.60 194.8h1.8M259.60 181.4h1.8M259.60 168.1h1.8M260.60 161.4h1.8M260.60 191.5h1.8M260.60 188.1h1.8M261.60 154.7h1.8M261.60 198.2h1.8M261.60 198.2h1.8M262.60 194.8h1.8M262.60 178.1h1.8M262.60 208.2h1.8M262.60 181.4h1.8M263.60 164.7h1.8M263.60 218.3h1.8M263.60 218.3h1.8M264.60 198.2h1.8M264.60 178.1h1.8M264.60 164.7h1.8M265.60 204.9h1.8M265.60 204.9h1.8M265.60 214.9h1.8M266.60 171.4h1.8M266.60 144.6h1.8M266.60 178.1h1.8M267.60 158.0h1.8M267.60 181.4h1.8M267.60 184.8h1.8M267.60 208.2h1.8M268.60 181.4h1.8M268.60 194.8h1.8M268.60 201.5h1.8M269.60 181.4h1.8M269.60 168.1h1.8M269.60 184.8h1.8M270.60 161.4h1.8M270.60 211.6h1.8M270.60 161.4h1.8M271.60 164.7h1.8M271.60 214.9h1.8M271.60 168.1h1.8M272.60 144.6h1.8M272.60 178.1h1.8M272.60 204.9h1.8M272.60 158.0h1.8M273.60 201.5h1.8M273.60 188.1h1.8M273.60 198.2h1.8M274.60 171.4h1.8M274.60 214.9h1.8M274.60 198.2h1.8M275.60 188.1h1.8M275.60 214.9h1.8M275.60 168.1h1.8M276.60 168.1h1.8M276.60 174.8h1.8M276.60 191.5h1.8M277.60 198.2h1.8M277.60 214.9h1.8M277.60 178.1h1.8M277.60 158.0h1.8M278.60 188.1h1.8M278.60 178.1h1.8M278.60 204.9h1.8M279.60 184.8h1.8M279.60 171.4h1.8M279.60 178.1h1.8M280.60 201.5h1.8M280.60 208.2h1.8M280.60 184.8h1.8M281.60 171.4h1.8M281.60 181.4h1.8M281.60 174.8h1.8M282.60 191.5h1.8M282.60 194.8h1.8M282.60 178.1h1.8M283.60 171.4h1.8M283.60 191.5h1.8M283.60 178.1h1.8M283.60 168.1h1.8M284.60 171.4h1.8M284.60 184.8h1.8M284.60 184.8h1.8M285.60 171.4h1.8M285.60 208.2h1.8M285.60 201.5h1.8M286.60 218.3h1.8M286.60 198.2h1.8M286.60 194.8h1.8M287.60 208.2h1.8M287.60 218.3h1.8M287.60 164.7h1.8M288.60 181.4h1.8M288.60 201.5h1.8M288.60 184.8h1.8M288.60 211.6h1.8M289.60 164.7h1.8M289.60 154.7h1.8M289.60 161.4h1.8M290.60 218.3h1.8M290.60 211.6h1.8M290.60 191.5h1.8M291.60 211.6h1.8M291.60 198.2h1.8M291.60 184.8h1.8M292.60 181.4h1.8M292.60 184.8h1.8M292.60 201.5h1.8M293.60 178.1h1.8M293.60 201.5h1.8M293.60 178.1h1.8M293.60 198.2h1.8M294.60 214.9h1.8M294.60 224.9h1.8M294.60 181.4h1.8M295.60 204.9h1.8M295.60 191.5h1.8M295.60 194.8h1.8M296.60 198.2h1.8M296.60 188.1h1.8M296.60 131.3h1.8M297.60 211.6h1.8M297.60 178.1h1.8M297.60 174.8h1.8M298.60 194.8h1.8M298.60 188.1h1.8M298.60 188.1h1.8M298.60 184.8h1.8M299.60 151.3h1.8M299.60 214.9h1.8M299.60 201.5h1.8M300.60 188.1h1.8M300.60 171.4h1.8M300.60 188.1h1.8M301.60 148.0h1.8M301.60 184.8h1.8M301.60 191.5h1.8M302.60 184.8h1.8M302.60 178.1h1.8M302.60 198.2h1.8M303.60 191.5h1.8M303.60 188.1h1.8M303.60 191.5h1.8M303.60 158.0h1.8M304.60 194.8h1.8M304.60 178.1h1.8M304.60 174.8h1.8M305.60 201.5h1.8M305.60 168.1h1.8M305.60 208.2h1.8M306.60 181.4h1.8M306.60 184.8h1.8M306.60 211.6h1.8M307.60 201.5h1.8M307.60 208.2h1.8M307.60 161.4h1.8M308.60 171.4h1.8M308.60 194.8h1.8M308.60 184.8h1.8M309.60 221.6h1.8M309.60 184.8h1.8M309.60 194.8h1.8M309.60 208.2h1.8M310.60 198.2h1.8M310.60 194.8h1.8M310.60 204.9h1.8M311.60 184.8h1.8M311.60 184.8h1.8M311.60 191.5h1.8M312.60 184.8h1.8M312.60 164.7h1.8M312.60 178.1h1.8M313.60 198.2h1.8M313.60 194.8h1.8M313.60 161.4h1.8M314.60 198.2h1.8M314.60 194.8h1.8M314.60 214.9h1.8M314.60 194.8h1.8M315.60 221.6h1.8M315.60 174.8h1.8M315.60 188.1h1.8M316.60 208.2h1.8M316.60 211.6h1.8M316.60 164.7h1.8M317.60 198.2h1.8M317.60 168.1h1.8M317.60 201.5h1.8M318.60 198.2h1.8M318.60 214.9h1.8M318.60 204.9h1.8M319.60 211.6h1.8M319.60 174.8h1.8M319.60 208.2h1.8M319.60 194.8h1.8M320.60 204.9h1.8M320.60 191.5h1.8M320.60 198.2h1.8M321.60 208.2h1.8M321.60 201.5h1.8M321.60 194.8h1.8M322.60 211.6h1.8M322.60 164.7h1.8M322.60 201.5h1.8M323.60 178.1h1.8M323.60 164.7h1.8M323.60 171.4h1.8M324.60 204.9h1.8M324.60 211.6h1.8M324.60 181.4h1.8M324.60 154.7h1.8M325.60 134.6h1.8M325.60 181.4h1.8M325.60 178.1h1.8M326.60 178.1h1.8M326.60 191.5h1.8M326.60 204.9h1.8M327.60 198.2h1.8M327.60 154.7h1.8M327.60 181.4h1.8M328.60 201.5h1.8M328.60 194.8h1.8M328.60 201.5h1.8M329.60 208.2h1.8M329.60 204.9h1.8M329.60 174.8h1.8M330.60 188.1h1.8M330.60 168.1h1.8M330.60 184.8h1.8M330.60 181.4h1.8M331.60 181.4h1.8M331.60 168.1h1.8M331.60 191.5h1.8M332.60 214.9h1.8M332.60 204.9h1.8M332.60 161.4h1.8M333.60 198.2h1.8M333.60 204.9h1.8M333.60 161.4h1.8M334.60 181.4h1.8M334.60 191.5h1.8M334.60 174.8h1.8M335.60 211.6h1.8M335.60 198.2h1.8M335.60 214.9h1.8M335.60 218.3h1.8M336.60 201.5h1.8M336.60 154.7h1.8M336.60 127.9h1.8M337.60 188.1h1.8M337.60 178.1h1.8M337.60 164.7h1.8M338.60 204.9h1.8M338.60 174.8h1.8M338.60 191.5h1.8M339.60 188.1h1.8M339.60 194.8h1.8M339.60 184.8h1.8M340.60 178.1h1.8M340.60 191.5h1.8M340.60 174.8h1.8M340.60 161.4h1.8M341.60 201.5h1.8M341.60 174.8h1.8M341.60 168.1h1.8M342.60 204.9h1.8M342.60 214.9h1.8M342.60 218.3h1.8M343.60 208.2h1.8M343.60 198.2h1.8M343.60 178.1h1.8M344.60 198.2h1.8M344.60 204.9h1.8M344.60 178.1h1.8M345.60 208.2h1.8M345.60 204.9h1.8M345.60 191.5h1.8M345.60 208.2h1.8M346.60 164.7h1.8M346.60 161.4h1.8M346.60 198.2h1.8M347.60 174.8h1.8M347.60 181.4h1.8M347.60 194.8h1.8M348.60 174.8h1.8M348.60 178.1h1.8M348.60 174.8h1.8M349.60 198.2h1.8M349.60 211.6h1.8M349.60 158.0h1.8M350.60 174.8h1.8M350.60 211.6h1.8M350.60 178.1h1.8M350.60 201.5h1.8M351.60 208.2h1.8M351.60 164.7h1.8M351.60 181.4h1.8M352.60 178.1h1.8M352.60 191.5h1.8M352.60 194.8h1.8M353.60 164.7h1.8M353.60 204.9h1.8M353.60 191.5h1.8M354.60 184.8h1.8M354.60 174.8h1.8M354.60 178.1h1.8M355.60 188.1h1.8M355.60 201.5h1.8M355.60 161.4h1.8M356.60 194.8h1.8M356.60 154.7h1.8M356.60 171.4h1.8M356.60 208.2h1.8M357.60 191.5h1.8M357.60 181.4h1.8M357.60 181.4h1.8M358.60 194.8h1.8M358.60 211.6h1.8M358.60 194.8h1.8M359.60 171.4h1.8M359.60 198.2h1.8M359.60 208.2h1.8M360.60 208.2h1.8M360.60 214.9h1.8M360.60 181.4h1.8M361.60 204.9h1.8M361.60 194.8h1.8M361.60 198.2h1.8M361.60 158.0h1.8M362.60 208.2h1.8M362.60 178.1h1.8M362.60 178.1h1.8M363.60 204.9h1.8M363.60 198.2h1.8M363.60 164.7h1.8M364.60 178.1h1.8M364.60 204.9h1.8M364.60 198.2h1.8M365.60 188.1h1.8M365.60 214.9h1.8M365.60 188.1h1.8M366.60 171.4h1.8M366.60 181.4h1.8M366.60 198.2h1.8M366.60 151.3h1.8M367.60 181.4h1.8M367.60 201.5h1.8M367.60 204.9h1.8M368.60 171.4h1.8M368.60 158.0h1.8M368.60 214.9h1.8M369.60 231.6h1.8M369.60 178.1h1.8M369.60 191.5h1.8M370.60 178.1h1.8M370.60 191.5h1.8M370.60 198.2h1.8M371.60 218.3h1.8M371.60 214.9h1.8M371.60 208.2h1.8M371.60 184.8h1.8M372.60 184.8h1.8M372.60 218.3h1.8M372.60 204.9h1.8M373.60 188.1h1.8M373.60 191.5h1.8M373.60 211.6h1.8M374.60 184.8h1.8M374.60 154.7h1.8M374.60 161.4h1.8M375.60 198.2h1.8M375.60 218.3h1.8M375.60 238.3h1.8M376.60 168.1h1.8M376.60 201.5h1.8M376.60 144.6h1.8M376.60 158.0h1.8M377.60 198.2h1.8M377.60 181.4h1.8M377.60 191.5h1.8M378.60 204.9h1.8M378.60 161.4h1.8M378.60 198.2h1.8M379.60 194.8h1.8M379.60 168.1h1.8M379.60 191.5h1.8M380.60 161.4h1.8M380.60 204.9h1.8M380.60 198.2h1.8M381.60 188.1h1.8M381.60 174.8h1.8M381.60 154.7h1.8M382.60 201.5h1.8M382.60 164.7h1.8M382.60 174.8h1.8M382.60 181.4h1.8M383.60 208.2h1.8M383.60 198.2h1.8M383.60 201.5h1.8M384.60 168.1h1.8M384.60 188.1h1.8M384.60 201.5h1.8M385.60 171.4h1.8M385.60 194.8h1.8M385.60 178.1h1.8M386.60 198.2h1.8M386.60 184.8h1.8M386.60 181.4h1.8M387.60 214.9h1.8M387.60 201.5h1.8M387.60 184.8h1.8M387.60 168.1h1.8M388.60 151.3h1.8M388.60 174.8h1.8M388.60 191.5h1.8M389.60 184.8h1.8M389.60 204.9h1.8M389.60 184.8h1.8M390.60 188.1h1.8M390.60 204.9h1.8M390.60 184.8h1.8M391.60 208.2h1.8M391.60 191.5h1.8M391.60 191.5h1.8M392.60 181.4h1.8M392.60 221.6h1.8M392.60 188.1h1.8M392.60 184.8h1.8M393.60 174.8h1.8M393.60 191.5h1.8M393.60 201.5h1.8M394.60 171.4h1.8M394.60 191.5h1.8M394.60 178.1h1.8M395.60 191.5h1.8M395.60 181.4h1.8M395.60 178.1h1.8M396.60 178.1h1.8M396.60 158.0h1.8M396.60 174.8h1.8M397.60 221.6h1.8M397.60 218.3h1.8M397.60 211.6h1.8M397.60 188.1h1.8M398.60 238.3h1.8M398.60 204.9h1.8M398.60 204.9h1.8M399.60 178.1h1.8M399.60 194.8h1.8M399.60 188.1h1.8M400.60 188.1h1.8M400.60 181.4h1.8M400.60 158.0h1.8M401.60 181.4h1.8M401.60 208.2h1.8M401.60 171.4h1.8M402.60 211.6h1.8M402.60 198.2h1.8M402.60 218.3h1.8M403.60 201.5h1.8M403.60 188.1h1.8M403.60 174.8h1.8M403.60 168.1h1.8M404.60 218.3h1.8M404.60 191.5h1.8M404.60 184.8h1.8M405.60 168.1h1.8M405.60 194.8h1.8M405.60 204.9h1.8M406.60 181.4h1.8M406.60 188.1h1.8M406.60 198.2h1.8M407.60 188.1h1.8M407.60 198.2h1.8M407.60 211.6h1.8M408.60 184.8h1.8M408.60 174.8h1.8M408.60 168.1h1.8M408.60 188.1h1.8M409.60 198.2h1.8M409.60 201.5h1.8M409.60 184.8h1.8M410.60 171.4h1.8M410.60 181.4h1.8M410.60 194.8h1.8M411.60 198.2h1.8M411.60 214.9h1.8M411.60 184.8h1.8M412.60 194.8h1.8M412.60 198.2h1.8M412.60 188.1h1.8M413.60 191.5h1.8M413.60 164.7h1.8M413.60 201.5h1.8M413.60 231.6h1.8M414.60 191.5h1.8M414.60 208.2h1.8M414.60 151.3h1.8M415.60 168.1h1.8M415.60 168.1h1.8M415.60 188.1h1.8M416.60 221.6h1.8M416.60 168.1h1.8M416.60 181.4h1.8M417.60 211.6h1.8M417.60 214.9h1.8M417.60 208.2h1.8M418.60 198.2h1.8M418.60 174.8h1.8M418.60 161.4h1.8M418.60 208.2h1.8M419.60 211.6h1.8M419.60 158.0h1.8M419.60 218.3h1.8M420.60 191.5h1.8M420.60 184.8h1.8M420.60 211.6h1.8M421.60 174.8h1.8M421.60 211.6h1.8M421.60 188.1h1.8M422.60 201.5h1.8M422.60 211.6h1.8M422.60 228.3h1.8M423.60 171.4h1.8M423.60 208.2h1.8M423.60 204.9h1.8M423.60 208.2h1.8M424.60 208.2h1.8M424.60 198.2h1.8M424.60 218.3h1.8M425.60 178.1h1.8M425.60 214.9h1.8M425.60 198.2h1.8M426.60 154.7h1.8M426.60 224.9h1.8M426.60 144.6h1.8M427.60 211.6h1.8M427.60 174.8h1.8M427.60 181.4h1.8M428.60 201.5h1.8M428.60 194.8h1.8M428.60 211.6h1.8M429.60 194.8h1.8M429.60 194.8h1.8M429.60 204.9h1.8M429.60 218.3h1.8M430.60 201.5h1.8M430.60 194.8h1.8M430.60 151.3h1.8M431.60 228.3h1.8M431.60 194.8h1.8M431.60 184.8h1.8M432.60 204.9h1.8M432.60 201.5h1.8M432.60 188.1h1.8M433.60 224.9h1.8M433.60 174.8h1.8M433.60 178.1h1.8M434.60 161.4h1.8M434.60 198.2h1.8M434.60 228.3h1.8M434.60 211.6h1.8M435.60 204.9h1.8M435.60 168.1h1.8M435.60 204.9h1.8M436.60 158.0h1.8M436.60 178.1h1.8M436.60 191.5h1.8M437.60 191.5h1.8M437.60 171.4h1.8M437.60 198.2h1.8M438.60 188.1h1.8M438.60 184.8h1.8M438.60 198.2h1.8M439.60 184.8h1.8M439.60 184.8h1.8M439.60 198.2h1.8M439.60 204.9h1.8M440.60 181.4h1.8M440.60 218.3h1.8M440.60 198.2h1.8M441.60 188.1h1.8M441.60 148.0h1.8M441.60 174.8h1.8M442.60 188.1h1.8M442.60 208.2h1.8M442.60 211.6h1.8M443.60 198.2h1.8M443.60 194.8h1.8M443.60 168.1h1.8M444.60 178.1h1.8M444.60 168.1h1.8M444.60 201.5h1.8M444.60 127.9h1.8M445.60 151.3h1.8M445.60 178.1h1.8M445.60 208.2h1.8M446.60 178.1h1.8M446.60 208.2h1.8M446.60 194.8h1.8M447.60 188.1h1.8M447.60 204.9h1.8M447.60 201.5h1.8M448.60 194.8h1.8M448.60 178.1h1.8M448.60 208.2h1.8M449.60 194.8h1.8M449.60 184.8h1.8M449.60 188.1h1.8M450.60 191.5h1.8M450.60 191.5h1.8M450.60 201.5h1.8M450.60 154.7h1.8M451.60 181.4h1.8M451.60 208.2h1.8M451.60 191.5h1.8M452.60 208.2h1.8M452.60 154.7h1.8M452.60 174.8h1.8M453.60 198.2h1.8M453.60 161.4h1.8M453.60 181.4h1.8M454.60 181.4h1.8M454.60 191.5h1.8M454.60 204.9h1.8M455.60 158.0h1.8M455.60 218.3h1.8M455.60 201.5h1.8M455.60 211.6h1.8M456.60 174.8h1.8M456.60 214.9h1.8M456.60 171.4h1.8M457.60 168.1h1.8M457.60 171.4h1.8M457.60 191.5h1.8M458.60 204.9h1.8M458.60 181.4h1.8M458.60 208.2h1.8M459.60 184.8h1.8M459.60 194.8h1.8M459.60 184.8h1.8M460.60 191.5h1.8M460.60 198.2h1.8M460.60 211.6h1.8M460.60 194.8h1.8M461.60 231.6h1.8M461.60 201.5h1.8M461.60 178.1h1.8M462.60 184.8h1.8M462.60 191.5h1.8M462.60 194.8h1.8M463.60 194.8h1.8M463.60 211.6h1.8M463.60 184.8h1.8M464.60 201.5h1.8M464.60 204.9h1.8M464.60 204.9h1.8M465.60 211.6h1.8M465.60 228.3h1.8M465.60 164.7h1.8M465.60 191.5h1.8M466.60 168.1h1.8M466.60 188.1h1.8M466.60 184.8h1.8M467.60 214.9h1.8M467.60 164.7h1.8M467.60 194.8h1.8M468.60 168.1h1.8M468.60 214.9h1.8M468.60 201.5h1.8M469.60 221.6h1.8M469.60 198.2h1.8M469.60 201.5h1.8M470.60 171.4h1.8M470.60 201.5h1.8M470.60 171.4h1.8M470.60 201.5h1.8M471.60 191.5h1.8M471.60 188.1h1.8M471.60 208.2h1.8M472.60 184.8h1.8M472.60 178.1h1.8M472.60 204.9h1.8M473.60 174.8h1.8M473.60 191.5h1.8M473.60 144.6h1.8M474.60 198.2h1.8M474.60 211.6h1.8M474.60 184.8h1.8M475.60 161.4h1.8M475.60 168.1h1.8M475.60 171.4h1.8M476.60 208.2h1.8M476.60 188.1h1.8M476.60 194.8h1.8M476.60 174.8h1.8M477.60 198.2h1.8M477.60 178.1h1.8M477.60 181.4h1.8M478.60 151.3h1.8M478.60 181.4h1.8M478.60 208.2h1.8M479.60 194.8h1.8M479.60 158.0h1.8M479.60 198.2h1.8M480.60 174.8h1.8M480.60 174.8h1.8M480.60 184.8h1.8M481.60 184.8h1.8M481.60 194.8h1.8M481.60 218.3h1.8M481.60 174.8h1.8M482.60 184.8h1.8M482.60 194.8h1.8M482.60 164.7h1.8M483.60 174.8h1.8M483.60 191.5h1.8M483.60 211.6h1.8M484.60 188.1h1.8M484.60 178.1h1.8M484.60 218.3h1.8M485.60 174.8h1.8M485.60 154.7h1.8M485.60 198.2h1.8M486.60 144.6h1.8M486.60 174.8h1.8M486.60 184.8h1.8M486.60 154.7h1.8M487.60 194.8h1.8M487.60 191.5h1.8M487.60 188.1h1.8M488.60 154.7h1.8M488.60 188.1h1.8M488.60 138.0h1.8M489.60 168.1h1.8M489.60 188.1h1.8M489.60 188.1h1.8M490.60 178.1h1.8M490.60 198.2h1.8M490.60 148.0h1.8M491.60 191.5h1.8M491.60 198.2h1.8M491.60 201.5h1.8M491.60 181.4h1.8M492.60 181.4h1.8M492.60 198.2h1.8M492.60 214.9h1.8M493.60 208.2h1.8M493.60 181.4h1.8M493.60 214.9h1.8M494.60 161.4h1.8M494.60 148.0h1.8M494.60 168.1h1.8M495.60 204.9h1.8M495.60 218.3h1.8M495.60 198.2h1.8M496.60 158.0h1.8M496.60 164.7h1.8M496.60 214.9h1.8M496.60 148.0h1.8M497.60 181.4h1.8M497.60 161.4h1.8M497.60 188.1h1.8M498.60 154.7h1.8M498.60 184.8h1.8M498.60 151.3h1.8M499.60 151.3h1.8M499.60 178.1h1.8M499.60 194.8h1.8M500.60 184.8h1.8M500.60 144.6h1.8M500.60 188.1h1.8M501.60 164.7h1.8M501.60 164.7h1.8M501.60 174.8h1.8M502.60 191.5h1.8M502.60 184.8h1.8M502.60 151.3h1.8M502.60 221.6h1.8M503.60 178.1h1.8M503.60 168.1h1.8M503.60 178.1h1.8M504.60 181.4h1.8M504.60 164.7h1.8M504.60 191.5h1.8M505.60 194.8h1.8M505.60 111.2h1.8M505.60 164.7h1.8M506.60 178.1h1.8M506.60 181.4h1.8M506.60 141.3h1.8M507.60 188.1h1.8M507.60 168.1h1.8M507.60 174.8h1.8M507.60 154.7h1.8M508.60 171.4h1.8M508.60 188.1h1.8M508.60 181.4h1.8M509.60 191.5h1.8M509.60 174.8h1.8M509.60 178.1h1.8M510.60 178.1h1.8M510.60 174.8h1.8M510.60 164.7h1.8M511.60 178.1h1.8M511.60 171.4h1.8M511.60 148.0h1.8M512.60 181.4h1.8M512.60 181.4h1.8M512.60 178.1h1.8M512.60 171.4h1.8M513.60 161.4h1.8M513.60 181.4h1.8M513.60 174.8h1.8M514.60 201.5h1.8M514.60 168.1h1.8M514.60 164.7h1.8M515.60 178.1h1.8M515.60 181.4h1.8M515.60 164.7h1.8M516.60 188.1h1.8M516.60 188.1h1.8M516.60 191.5h1.8M517.60 194.8h1.8M517.60 204.9h1.8M517.60 171.4h1.8M517.60 121.2h1.8M518.60 198.2h1.8M518.60 181.4h1.8M518.60 194.8h1.8M519.60 201.5h1.8M519.60 214.9h1.8M519.60 194.8h1.8M520.60 171.4h1.8M520.60 161.4h1.8M520.60 158.0h1.8M521.60 174.8h1.8M521.60 141.3h1.8M521.60 164.7h1.8M522.60 171.4h1.8M522.60 158.0h1.8M522.60 184.8h1.8M523.60 164.7h1.8M523.60 174.8h1.8M523.60 171.4h1.8M523.60 178.1h1.8M524.60 144.6h1.8M524.60 194.8h1.8M524.60 188.1h1.8M525.60 127.9h1.8M525.60 184.8h1.8M525.60 168.1h1.8M526.60 194.8h1.8M526.60 171.4h1.8M526.60 184.8h1.8M527.60 174.8h1.8M527.60 181.4h1.8M527.60 181.4h1.8M528.60 161.4h1.8M528.60 184.8h1.8M528.60 188.1h1.8M528.60 201.5h1.8M529.60 178.1h1.8M529.60 198.2h1.8M529.60 211.6h1.8M530.60 184.8h1.8M530.60 184.8h1.8M530.60 188.1h1.8M531.60 161.4h1.8M531.60 181.4h1.8M531.60 158.0h1.8M532.60 134.6h1.8M532.60 218.3h1.8M532.60 184.8h1.8M533.60 188.1h1.8M533.60 161.4h1.8M533.60 194.8h1.8M533.60 188.1h1.8M534.60 171.4h1.8M534.60 148.0h1.8M534.60 198.2h1.8M535.60 191.5h1.8M535.60 168.1h1.8M535.60 174.8h1.8M536.60 168.1h1.8M536.60 178.1h1.8M536.60 164.7h1.8M537.60 201.5h1.8M537.60 204.9h1.8M537.60 141.3h1.8M538.60 171.4h1.8M538.60 148.0h1.8M538.60 141.3h1.8M538.60 134.6h1.8M539.60 168.1h1.8M539.60 174.8h1.8M539.60 171.4h1.8M540.60 148.0h1.8M540.60 184.8h1.8M540.60 148.0h1.8M541.60 184.8h1.8M541.60 181.4h1.8M541.60 194.8h1.8M542.60 164.7h1.8M542.60 144.6h1.8M542.60 194.8h1.8M543.60 178.1h1.8M543.60 171.4h1.8M543.60 178.1h1.8M543.60 201.5h1.8M544.60 174.8h1.8M544.60 168.1h1.8M544.60 138.0h1.8M545.60 148.0h1.8"/>
<path class="eb" d="M48.50 412.3V454.1M50.50 430.5V469.5M52.50 390.7V435.6M54.50 426.8V466.4M56.50 452.3V487.8M58.50 441.4V478.6M60.50 448.7V484.7M62.50 430.5V469.5M64.50 426.8V466.4M66.50 463.4V496.8M68.50 415.9V457.2M70.50 437.7V475.6M72.50 437.7V475.6M74.50 430.5V469.5M76.50 452.3V487.8M78.50 489.3V517.7M80.50 419.6V460.3M82.50 437.7V475.6M84.50 452.3V487.8M86.50 419.6V460.3M89.50 387.1V432.5M91.50 394.3V438.7M93.50 448.7V484.7M95.50 426.8V466.4M97.50 426.8V466.4M99.50 448.7V484.7M101.50 415.9V457.2M103.50 434.1V472.5M105.50 426.8V466.4M107.50 412.3V454.1M109.50 448.7V484.7M111.50 426.8V466.4M113.50 441.4V478.6M115.50 441.4V478.6M117.50 430.5V469.5M119.50 437.7V475.6M121.50 394.3V438.7M123.50 430.5V469.5M125.50 441.4V478.6M127.50 419.6V460.3M129.50 419.6V460.3M131.50 430.5V469.5M133.50 415.9V457.2M135.50 408.7V451.1M137.50 423.2V463.4M139.50 456.0V490.8M141.50 463.4V496.8M143.50 448.7V484.7M145.50 423.2V463.4M147.50 423.2V463.4M149.50 437.7V475.6M151.50 456.0V490.8M153.50 448.7V484.7M155.50 437.7V475.6M157.50 459.7V493.8M159.50 434.1V472.5M161.50 415.9V457.2M163.50 430.5V469.5M165.50 387.1V432.5M167.50 478.1V508.8M169.50 448.7V484.7M171.50 437.7V475.6M173.50 437.7V475.6M175.50 467.0V499.8M177.50 448.7V484.7M179.50 379.9V426.3M181.50 434.1V472.5M183.50 412.3V454.1M185.50 434.1V472.5M187.50 415.9V457.2M189.50 437.7V475.6M191.50 408.7V451.1M193.50 470.7V502.8M195.50 434.1V472.5M197.50 365.6V413.9M199.50 452.3V487.8M201.50 405.1V448.0M203.50 405.1V448.0M205.50 415.9V457.2M207.50 405.1V448.0M209.50 394.3V438.7M211.50 383.5V429.4M213.50 408.7V451.1M215.50 412.3V454.1M217.50 423.2V463.4M219.50 452.3V487.8M221.50 369.2V417.0M223.50 423.2V463.4M225.50 358.4V407.6M227.50 430.5V469.5M229.50 369.2V417.0M231.50 390.7V435.6M233.50 412.3V454.1M235.50 379.9V426.3M237.50 397.9V441.8M239.50 390.7V435.6M241.50 394.3V438.7M243.50 387.1V432.5M245.50 354.9V404.5M247.50 394.3V438.7M249.50 379.9V426.3M251.50 379.9V426.3M253.50 365.6V413.9M255.50 347.7V398.3M257.50 315.7V370.1M259.50 401.5V444.9M261.50 322.8V376.3M263.50 379.9V426.3M265.50 379.9V426.3M267.50 365.6V413.9M269.50 394.3V438.7M271.50 390.7V435.6M273.50 430.5V469.5M275.50 372.7V420.1M277.50 333.5V385.7M279.50 344.1V395.1M281.50 354.9V404.5M283.50 379.9V426.3M285.50 383.5V429.4M287.50 362.0V410.7M289.50 351.3V401.4M291.50 351.3V401.4M293.50 394.3V438.7M295.50 315.7V370.1M297.50 394.3V438.7M299.50 354.9V404.5M301.50 369.2V417.0M303.50 415.9V457.2M305.50 434.1V472.5M307.50 354.9V404.5M309.50 322.8V376.3M311.50 401.5V444.9M313.50 347.7V398.3M315.50 347.7V398.3M317.50 372.7V420.1M319.50 362.0V410.7M321.50 376.3V423.2M323.50 376.3V423.2M325.50 405.1V448.0M327.50 383.5V429.4M329.50 333.5V385.7M331.50 354.9V404.5M333.50 362.0V410.7M335.50 387.1V432.5M337.50 358.4V407.6M339.50 362.0V410.7M341.50 372.7V420.1M343.50 351.3V401.4M345.50 369.2V417.0M347.50 419.6V460.3M349.50 387.1V432.5M351.50 376.3V423.2M353.50 426.8V466.4M355.50 333.5V385.7M357.50 401.5V444.9M359.50 387.1V432.5M361.50 401.5V444.9M363.50 401.5V444.9M365.50 412.3V454.1M367.50 362.0V410.7M369.50 394.3V438.7M371.50 387.1V432.5M373.50 419.6V460.3M375.50 412.3V454.1M377.50 394.3V438.7M379.50 397.9V441.8M381.50 379.9V426.3M383.50 390.7V435.6M385.50 390.7V435.6M387.50 408.7V451.1M389.50 390.7V435.6M391.50 423.2V463.4M393.50 401.5V444.9M395.50 394.3V438.7M397.50 430.5V469.5M399.50 423.2V463.4M401.50 405.1V448.0M403.50 387.1V432.5M405.50 405.1V448.0M407.50 394.3V438.7M409.50 437.7V475.6M411.50 423.2V463.4M413.50 397.9V441.8M415.50 437.7V475.6M417.50 430.5V469.5M419.50 434.1V472.5M421.50 405.1V448.0M423.50 456.0V490.8M425.50 383.5V429.4M427.50 437.7V475.6M429.50 412.3V454.1M431.50 463.4V496.8M433.50 423.2V463.4M435.50 419.6V460.3M437.50 456.0V490.8M439.50 459.7V493.8M441.50 426.8V466.4M443.50 452.3V487.8M445.50 437.7V475.6M447.50 437.7V475.6M449.50 423.2V463.4M451.50 383.5V429.4M453.50 387.1V432.5M455.50 448.7V484.7M457.50 397.9V441.8M459.50 456.0V490.8M461.50 470.7V502.8M463.50 390.7V435.6M465.50 419.6V460.3M467.50 415.9V457.2M469.50 415.9V457.2M471.50 419.6V460.3M473.50 412.3V454.1M475.50 419.6V460.3M477.50 434.1V472.5M479.50 412.3V454.1M481.50 437.7V475.6M483.50 415.9V457.2M485.50 441.4V478.6M487.50 430.5V469.5M489.50 452.3V487.8M492.50 445.0V481.7M494.50 441.4V478.6M496.50 408.7V451.1M498.50 408.7V451.1M500.50 419.6V460.3M502.50 445.0V481.7M504.50 445.0V481.7M506.50 430.5V469.5M508.50 415.9V457.2M510.50 430.5V469.5M512.50 423.2V463.4M514.50 452.3V487.8M516.50 423.2V463.4M518.50 437.7V475.6M520.50 441.4V478.6M522.50 456.0V490.8M524.50 441.4V478.6M526.50 401.5V444.9M528.50 445.0V481.7M530.50 426.8V466.4M532.50 430.5V469.5M534.50 430.5V469.5M536.50 415.9V457.2M538.50 401.5V444.9M540.50 401.5V444.9M542.50 441.4V478.6M544.50 445.0V481.7M546.50 445.0V481.7M548.50 415.9V457.2"/>
<path class="ebd" d="M47.20 433.23L48.50 432.13L49.80 433.23L48.50 434.33ZM49.20 449.97L50.50 448.87L51.80 449.97L50.50 451.07ZM51.20 413.15L52.50 412.05L53.80 413.15L52.50 414.25ZM53.20 446.62L54.50 445.52L55.80 446.62L54.50 447.72ZM55.20 470.05L56.50 468.95L57.80 470.05L56.50 471.15ZM57.20 460.01L58.50 458.91L59.80 460.01L58.50 461.11ZM59.20 466.70L60.50 465.60L61.80 466.70L60.50 467.80ZM61.20 449.97L62.50 448.87L63.80 449.97L62.50 451.07ZM63.20 446.62L64.50 445.52L65.80 446.62L64.50 447.72ZM65.20 480.09L66.50 478.99L67.80 480.09L66.50 481.19ZM67.20 436.58L68.50 435.48L69.80 436.58L68.50 437.68ZM69.20 456.66L70.50 455.56L71.80 456.66L70.50 457.76ZM71.20 456.66L72.50 455.56L73.80 456.66L72.50 457.76ZM73.20 449.97L74.50 448.87L75.80 449.97L74.50 451.07ZM75.20 470.05L76.50 468.95L77.80 470.05L76.50 471.15ZM77.20 503.52L78.50 502.42L79.80 503.52L78.50 504.62ZM79.20 439.93L80.50 438.83L81.80 439.93L80.50 441.03ZM81.20 456.66L82.50 455.56L83.80 456.66L82.50 457.76ZM83.20 470.05L84.50 468.95L85.80 470.05L84.50 471.15ZM85.20 439.93L86.50 438.83L87.80 439.93L86.50 441.03ZM88.20 409.80L89.50 408.70L90.80 409.80L89.50 410.90ZM90.20 416.50L91.50 415.40L92.80 416.50L91.50 417.60ZM92.20 466.70L93.50 465.60L94.80 466.70L93.50 467.80ZM94.20 446.62L95.50 445.52L96.80 446.62L95.50 447.72ZM96.20 446.62L97.50 445.52L98.80 446.62L97.50 447.72ZM98.20 466.70L99.50 465.60L100.80 466.70L99.50 467.80ZM100.20 436.58L101.50 435.48L102.80 436.58L101.50 437.68ZM102.20 453.32L103.50 452.22L104.80 453.32L103.50 454.42ZM104.20 446.62L105.50 445.52L106.80 446.62L105.50 447.72ZM106.20 433.23L107.50 432.13L108.80 433.23L107.50 434.33ZM108.20 466.70L109.50 465.60L110.80 466.70L109.50 467.80ZM110.20 446.62L111.50 445.52L112.80 446.62L111.50 447.72ZM112.20 460.01L113.50 458.91L114.80 460.01L113.50 461.11ZM114.20 460.01L115.50 458.91L116.80 460.01L115.50 461.11ZM116.20 449.97L117.50 448.87L118.80 449.97L117.50 451.07ZM118.20 456.66L119.50 455.56L120.80 456.66L119.50 457.76ZM120.20 416.50L121.50 415.40L122.80 416.50L121.50 417.60ZM122.20 449.97L123.50 448.87L124.80 449.97L123.50 451.07ZM124.20 460.01L125.50 458.91L126.80 460.01L125.50 461.11ZM126.20 439.93L127.50 438.83L128.80 439.93L127.50 441.03ZM128.20 439.93L129.50 438.83L130.80 439.93L129.50 441.03ZM130.20 449.97L131.50 448.87L132.80 449.97L131.50 451.07ZM132.20 436.58L133.50 435.48L134.80 436.58L133.50 437.68ZM134.20 429.89L135.50 428.79L136.80 429.89L135.50 430.99ZM136.20 443.27L137.50 442.17L138.80 443.27L137.50 444.37ZM138.20 473.40L139.50 472.30L140.80 473.40L139.50 474.50ZM140.20 480.09L141.50 478.99L142.80 480.09L141.50 481.19ZM142.20 466.70L143.50 465.60L144.80 466.70L143.50 467.80ZM144.20 443.27L145.50 442.17L146.80 443.27L145.50 444.37ZM146.20 443.27L147.50 442.17L148.80 443.27L147.50 444.37ZM148.20 456.66L149.50 455.56L150.80 456.66L149.50 457.76ZM150.20 473.40L151.50 472.30L152.80 473.40L151.50 474.50ZM152.20 466.70L153.50 465.60L154.80 466.70L153.50 467.80ZM154.20 456.66L155.50 455.56L156.80 456.66L155.50 457.76ZM156.20 476.75L157.50 475.65L158.80 476.75L157.50 477.85ZM158.20 453.32L159.50 452.22L160.80 453.32L159.50 454.42ZM160.20 436.58L161.50 435.48L162.80 436.58L161.50 437.68ZM162.20 449.97L163.50 448.87L164.80 449.97L163.50 451.07ZM164.20 409.80L165.50 408.70L166.80 409.80L165.50 410.90ZM166.20 493.48L167.50 492.38L168.80 493.48L167.50 494.58ZM168.20 466.70L169.50 465.60L170.80 466.70L169.50 467.80ZM170.20 456.66L171.50 455.56L172.80 456.66L171.50 457.76ZM172.20 456.66L173.50 455.56L174.80 456.66L173.50 457.76ZM174.20 483.44L175.50 482.34L176.80 483.44L175.50 484.54ZM176.20 466.70L177.50 465.60L178.80 466.70L177.50 467.80ZM178.20 403.11L179.50 402.01L180.80 403.11L179.50 404.21ZM180.20 453.32L181.50 452.22L182.80 453.32L181.50 454.42ZM182.20 433.23L183.50 432.13L184.80 433.23L183.50 434.33ZM184.20 453.32L185.50 452.22L186.80 453.32L185.50 454.42ZM186.20 436.58L187.50 435.48L188.80 436.58L187.50 437.68ZM188.20 456.66L189.50 455.56L190.80 456.66L189.50 457.76ZM190.20 429.89L191.50 428.79L192.80 429.89L191.50 430.99ZM192.20 486.79L193.50 485.69L194.80 486.79L193.50 487.89ZM194.20 453.32L195.50 452.22L196.80 453.32L195.50 454.42ZM196.20 389.72L197.50 388.62L198.80 389.72L197.50 390.82ZM198.20 470.05L199.50 468.95L200.80 470.05L199.50 471.15ZM200.20 426.54L201.50 425.44L202.80 426.54L201.50 427.64ZM202.20 426.54L203.50 425.44L204.80 426.54L203.50 427.64ZM204.20 436.58L205.50 435.48L206.80 436.58L205.50 437.68ZM206.20 426.54L207.50 425.44L208.80 426.54L207.50 427.64ZM208.20 416.50L209.50 415.40L210.80 416.50L209.50 417.60ZM210.20 406.46L211.50 405.36L212.80 406.46L211.50 407.56ZM212.20 429.89L213.50 428.79L214.80 429.89L213.50 430.99ZM214.20 433.23L215.50 432.13L216.80 433.23L215.50 434.33ZM216.20 443.27L217.50 442.17L218.80 443.27L217.50 444.37ZM218.20 470.05L219.50 468.95L220.80 470.05L219.50 471.15ZM220.20 393.07L221.50 391.97L222.80 393.07L221.50 394.17ZM222.20 443.27L223.50 442.17L224.80 443.27L223.50 444.37ZM224.20 383.03L225.50 381.93L226.80 383.03L225.50 384.13ZM226.20 449.97L227.50 448.87L228.80 449.97L227.50 451.07ZM228.20 393.07L229.50 391.97L230.80 393.07L229.50 394.17ZM230.20 413.15L231.50 412.05L232.80 413.15L231.50 414.25ZM232.20 433.23L233.50 432.13L234.80 433.23L233.50 434.33ZM234.20 403.11L235.50 402.01L236.80 403.11L235.50 404.21ZM236.20 419.84L237.50 418.74L238.80 419.84L237.50 420.94ZM238.20 413.15L239.50 412.05L240.80 413.15L239.50 414.25ZM240.20 416.50L241.50 415.40L242.80 416.50L241.50 417.60ZM242.20 409.80L243.50 408.70L244.80 409.80L243.50 410.90ZM244.20 379.68L245.50 378.58L246.80 379.68L245.50 380.78ZM246.20 416.50L247.50 415.40L248.80 416.50L247.50 417.60ZM248.20 403.11L249.50 402.01L250.80 403.11L249.50 404.21ZM250.20 403.11L251.50 402.01L252.80 403.11L251.50 404.21ZM252.20 389.72L253.50 388.62L254.80 389.72L253.50 390.82ZM254.20 372.98L255.50 371.88L256.80 372.98L255.50 374.08ZM256.20 342.86L257.50 341.76L258.80 342.86L257.50 343.96ZM258.20 423.19L259.50 422.09L260.80 423.19L259.50 424.29ZM260.20 349.55L261.50 348.45L262.80 349.55L261.50 350.65ZM262.20 403.11L263.50 402.01L264.80 403.11L263.50 404.21ZM264.20 403.11L265.50 402.01L266.80 403.11L265.50 404.21ZM266.20 389.72L267.50 388.62L268.80 389.72L267.50 390.82ZM268.20 416.50L269.50 415.40L270.80 416.50L269.50 417.60ZM270.20 413.15L271.50 412.05L272.80 413.15L271.50 414.25ZM272.20 449.97L273.50 448.87L274.80 449.97L273.50 451.07ZM274.20 396.41L275.50 395.31L276.80 396.41L275.50 397.51ZM276.20 359.60L277.50 358.50L278.80 359.60L277.50 360.70ZM278.20 369.64L279.50 368.54L280.80 369.64L279.50 370.74ZM280.20 379.68L281.50 378.58L282.80 379.68L281.50 380.78ZM282.20 403.11L283.50 402.01L284.80 403.11L283.50 404.21ZM284.20 406.46L285.50 405.36L286.80 406.46L285.50 407.56ZM286.20 386.37L287.50 385.27L288.80 386.37L287.50 387.47ZM288.20 376.33L289.50 375.23L290.80 376.33L289.50 377.43ZM290.20 376.33L291.50 375.23L292.80 376.33L291.50 377.43ZM292.20 416.50L293.50 415.40L294.80 416.50L293.50 417.60ZM294.20 342.86L295.50 341.76L296.80 342.86L295.50 343.96ZM296.20 416.50L297.50 415.40L298.80 416.50L297.50 417.60ZM298.20 379.68L299.50 378.58L300.80 379.68L299.50 380.78ZM300.20 393.07L301.50 391.97L302.80 393.07L301.50 394.17ZM302.20 436.58L303.50 435.48L304.80 436.58L303.50 437.68ZM304.20 453.32L305.50 452.22L306.80 453.32L305.50 454.42ZM306.20 379.68L307.50 378.58L308.80 379.68L307.50 380.78ZM308.20 349.55L309.50 348.45L310.80 349.55L309.50 350.65ZM310.20 423.19L311.50 422.09L312.80 423.19L311.50 424.29ZM312.20 372.98L313.50 371.88L314.80 372.98L313.50 374.08ZM314.20 372.98L315.50 371.88L316.80 372.98L315.50 374.08ZM316.20 396.41L317.50 395.31L318.80 396.41L317.50 397.51ZM318.20 386.37L319.50 385.27L320.80 386.37L319.50 387.47ZM320.20 399.76L321.50 398.66L322.80 399.76L321.50 400.86ZM322.20 399.76L323.50 398.66L324.80 399.76L323.50 400.86ZM324.20 426.54L325.50 425.44L326.80 426.54L325.50 427.64ZM326.20 406.46L327.50 405.36L328.80 406.46L327.50 407.56ZM328.20 359.60L329.50 358.50L330.80 359.60L329.50 360.70ZM330.20 379.68L331.50 378.58L332.80 379.68L331.50 380.78ZM332.20 386.37L333.50 385.27L334.80 386.37L333.50 387.47ZM334.20 409.80L335.50 408.70L336.80 409.80L335.50 410.90ZM336.20 383.03L337.50 381.93L338.80 383.03L337.50 384.13ZM338.20 386.37L339.50 385.27L340.80 386.37L339.50 387.47ZM340.20 396.41L341.50 395.31L342.80 396.41L341.50 397.51ZM342.20 376.33L343.50 375.23L344.80 376.33L343.50 377.43ZM344.20 393.07L345.50 391.97L346.80 393.07L345.50 394.17ZM346.20 439.93L347.50 438.83L348.80 439.93L347.50 441.03ZM348.20 409.80L349.50 408.70L350.80 409.80L349.50 410.90ZM350.20 399.76L351.50 398.66L352.80 399.76L351.50 400.86ZM352.20 446.62L353.50 445.52L354.80 446.62L353.50 447.72ZM354.20 359.60L355.50 358.50L356.80 359.60L355.50 360.70ZM356.20 423.19L357.50 422.09L358.80 423.19L357.50 424.29ZM358.20 409.80L359.50 408.70L360.80 409.80L359.50 410.90ZM360.20 423.19L361.50 422.09L362.80 423.19L361.50 424.29ZM362.20 423.19L363.50 422.09L364.80 423.19L363.50 424.29ZM364.20 433.23L365.50 432.13L366.80 433.23L365.50 434.33ZM366.20 386.37L367.50 385.27L368.80 386.37L367.50 387.47ZM368.20 416.50L369.50 415.40L370.80 416.50L369.50 417.60ZM370.20 409.80L371.50 408.70L372.80 409.80L371.50 410.90ZM372.20 439.93L373.50 438.83L374.80 439.93L373.50 441.03ZM374.20 433.23L375.50 432.13L376.80 433.23L375.50 434.33ZM376.20 416.50L377.50 415.40L378.80 416.50L377.50 417.60ZM378.20 419.84L379.50 418.74L380.80 419.84L379.50 420.94ZM380.20 403.11L381.50 402.01L382.80 403.11L381.50 404.21ZM382.20 413.15L383.50 412.05L384.80 413.15L383.50 414.25ZM384.20 413.15L385.50 412.05L386.80 413.15L385.50 414.25ZM386.20 429.89L387.50 428.79L388.80 429.89L387.50 430.99ZM388.20 413.15L389.50 412.05L390.80 413.15L389.50 414.25ZM390.20 443.27L391.50 442.17L392.80 443.27L391.50 444.37ZM392.20 423.19L393.50 422.09L394.80 423.19L393.50 424.29ZM394.20 416.50L395.50 415.40L396.80 416.50L395.50 417.60ZM396.20 449.97L397.50 448.87L398.80 449.97L397.50 451.07ZM398.20 443.27L399.50 442.17L400.80 443.27L399.50 444.37ZM400.20 426.54L401.50 425.44L402.80 426.54L401.50 427.64ZM402.20 409.80L403.50 408.70L404.80 409.80L403.50 410.90ZM404.20 426.54L405.50 425.44L406.80 426.54L405.50 427.64ZM406.20 416.50L407.50 415.40L408.80 416.50L407.50 417.60ZM408.20 456.66L409.50 455.56L410.80 456.66L409.50 457.76ZM410.20 443.27L411.50 442.17L412.80 443.27L411.50 444.37ZM412.20 419.84L413.50 418.74L414.80 419.84L413.50 420.94ZM414.20 456.66L415.50 455.56L416.80 456.66L415.50 457.76ZM416.20 449.97L417.50 448.87L418.80 449.97L417.50 451.07ZM418.20 453.32L419.50 452.22L420.80 453.32L419.50 454.42ZM420.20 426.54L421.50 425.44L422.80 426.54L421.50 427.64ZM422.20 473.40L423.50 472.30L424.80 473.40L423.50 474.50ZM424.20 406.46L425.50 405.36L426.80 406.46L425.50 407.56ZM426.20 456.66L427.50 455.56L428.80 456.66L427.50 457.76ZM428.20 433.23L429.50 432.13L430.80 433.23L429.50 434.33ZM430.20 480.09L431.50 478.99L432.80 480.09L431.50 481.19ZM432.20 443.27L433.50 442.17L434.80 443.27L433.50 444.37ZM434.20 439.93L435.50 438.83L436.80 439.93L435.50 441.03ZM436.20 473.40L437.50 472.30L438.80 473.40L437.50 474.50ZM438.20 476.75L439.50 475.65L440.80 476.75L439.50 477.85ZM440.20 446.62L441.50 445.52L442.80 446.62L441.50 447.72ZM442.20 470.05L443.50 468.95L444.80 470.05L443.50 471.15ZM444.20 456.66L445.50 455.56L446.80 456.66L445.50 457.76ZM446.20 456.66L447.50 455.56L448.80 456.66L447.50 457.76ZM448.20 443.27L449.50 442.17L450.80 443.27L449.50 444.37ZM450.20 406.46L451.50 405.36L452.80 406.46L451.50 407.56ZM452.20 409.80L453.50 408.70L454.80 409.80L453.50 410.90ZM454.20 466.70L455.50 465.60L456.80 466.70L455.50 467.80ZM456.20 419.84L457.50 418.74L458.80 419.84L457.50 420.94ZM458.20 473.40L459.50 472.30L460.80 473.40L459.50 474.50ZM460.20 486.79L461.50 485.69L462.80 486.79L461.50 487.89ZM462.20 413.15L463.50 412.05L464.80 413.15L463.50 414.25ZM464.20 439.93L465.50 438.83L466.80 439.93L465.50 441.03ZM466.20 436.58L467.50 435.48L468.80 436.58L467.50 437.68ZM468.20 436.58L469.50 435.48L470.80 436.58L469.50 437.68ZM470.20 439.93L471.50 438.83L472.80 439.93L471.50 441.03ZM472.20 433.23L473.50 432.13L474.80 433.23L473.50 434.33ZM474.20 439.93L475.50 438.83L476.80 439.93L475.50 441.03ZM476.20 453.32L477.50 452.22L478.80 453.32L477.50 454.42ZM478.20 433.23L479.50 432.13L480.80 433.23L479.50 434.33ZM480.20 456.66L481.50 455.56L482.80 456.66L481.50 457.76ZM482.20 436.58L483.50 435.48L484.80 436.58L483.50 437.68ZM484.20 460.01L485.50 458.91L486.80 460.01L485.50 461.11ZM486.20 449.97L487.50 448.87L488.80 449.97L487.50 451.07ZM488.20 470.05L489.50 468.95L490.80 470.05L489.50 471.15ZM491.20 463.36L492.50 462.26L493.80 463.36L492.50 464.46ZM493.20 460.01L494.50 458.91L495.80 460.01L494.50 461.11ZM495.20 429.89L496.50 428.79L497.80 429.89L496.50 430.99ZM497.20 429.89L498.50 428.79L499.80 429.89L498.50 430.99ZM499.20 439.93L500.50 438.83L501.80 439.93L500.50 441.03ZM501.20 463.36L502.50 462.26L503.80 463.36L502.50 464.46ZM503.20 463.36L504.50 462.26L505.80 463.36L504.50 464.46ZM505.20 449.97L506.50 448.87L507.80 449.97L506.50 451.07ZM507.20 436.58L508.50 435.48L509.80 436.58L508.50 437.68ZM509.20 449.97L510.50 448.87L511.80 449.97L510.50 451.07ZM511.20 443.27L512.50 442.17L513.80 443.27L512.50 444.37ZM513.20 470.05L514.50 468.95L515.80 470.05L514.50 471.15ZM515.20 443.27L516.50 442.17L517.80 443.27L516.50 444.37ZM517.20 456.66L518.50 455.56L519.80 456.66L518.50 457.76ZM519.20 460.01L520.50 458.91L521.80 460.01L520.50 461.11ZM521.20 473.40L522.50 472.30L523.80 473.40L522.50 474.50ZM523.20 460.01L524.50 458.91L525.80 460.01L524.50 461.11ZM525.20 423.19L526.50 422.09L527.80 423.19L526.50 424.29ZM527.20 463.36L528.50 462.26L529.80 463.36L528.50 464.46ZM529.20 446.62L530.50 445.52L531.80 446.62L530.50 447.72ZM531.20 449.97L532.50 448.87L533.80 449.97L532.50 451.07ZM533.20 449.97L534.50 448.87L535.80 449.97L534.50 451.07ZM535.20 436.58L536.50 435.48L537.80 436.58L536.50 437.68ZM537.20 423.19L538.50 422.09L539.80 423.19L538.50 424.29ZM539.20 423.19L540.50 422.09L541.80 423.19L540.50 424.29ZM541.20 460.01L542.50 458.91L543.80 460.01L542.50 461.11ZM543.20 463.36L544.50 462.26L545.80 463.36L544.50 464.46ZM545.20 463.36L546.50 462.26L547.80 463.36L546.50 464.46ZM547.20 436.58L548.50 435.48L549.80 436.58L548.50 437.68Z"/>
<path class="ec" d="M49.50 678.7V756.5M52.50 732.3V791.2M55.50 770.4V812.0M58.50 751.0V801.9M62.50 661.3V744.5M65.50 593.1V695.0M68.50 714.1V779.9M71.50 732.3V791.2M74.50 678.7V756.5M77.50 644.1V732.3M80.50 732.3V791.2M84.50 732.3V791.2M87.50 696.3V768.4M90.50 696.3V768.4M93.50 751.0V801.9M96.50 732.3V791.2M99.50 678.7V756.5M102.50 678.7V756.5M105.50 661.3V744.5M109.50 644.1V732.3M112.50 644.1V732.3M115.50 678.7V756.5M118.50 714.1V779.9M121.50 661.3V744.5M124.50 732.3V791.2M127.50 714.1V779.9M131.50 751.0V801.9M134.50 732.3V791.2M137.50 732.3V791.2M140.50 696.3V768.4M143.50 770.4V812.0M146.50 732.3V791.2M149.50 661.3V744.5M152.50 696.3V768.4M156.50 751.0V801.9M159.50 678.7V756.5M162.50 732.3V791.2M165.50 714.1V779.9M168.50 732.3V791.2M171.50 714.1V779.9M174.50 732.3V791.2M177.50 644.1V732.3M181.50 696.3V768.4M184.50 770.4V812.0M187.50 696.3V768.4M190.50 751.0V801.9M193.50 770.4V812.0M196.50 678.7V756.5M199.50 732.3V791.2M203.50 732.3V791.2M206.50 661.3V744.5M209.50 714.1V779.9M212.50 627.0V720.0M215.50 751.0V801.9M218.50 714.1V779.9M221.50 714.1V779.9M224.50 770.4V812.0M228.50 751.0V801.9M231.50 696.3V768.4M234.50 696.3V768.4M237.50 732.3V791.2M240.50 696.3V768.4M243.50 770.4V812.0M246.50 644.1V732.3M250.50 696.3V768.4M253.50 751.0V801.9M256.50 714.1V779.9M259.50 732.3V791.2M262.50 644.1V732.3M265.50 661.3V744.5M268.50 570.5V669.7M271.50 696.3V768.4M275.50 610.0V707.6M278.50 770.4V812.0M281.50 696.3V768.4M284.50 770.4V812.0M287.50 751.0V801.9M290.50 770.4V812.0M293.50 732.3V791.2M296.50 696.3V768.4M300.50 732.3V791.2M303.50 678.7V756.5M306.50 770.4V812.0M309.50 732.3V791.2M312.50 732.3V791.2M315.50 696.3V768.4M318.50 678.7V756.5M322.50 751.0V801.9M325.50 751.0V801.9M328.50 732.3V791.2M331.50 661.3V744.5M337.50 696.3V768.4M340.50 661.3V744.5M343.50 714.1V779.9M347.50 576.3V682.4M350.50 661.3V744.5M353.50 696.3V768.4M356.50 714.1V779.9M359.50 678.7V756.5M362.50 696.3V768.4M365.50 751.0V801.9M369.50 791.2V820.6M372.50 714.1V779.9M375.50 751.0V801.9M378.50 714.1V779.9M381.50 696.3V768.4M384.50 714.1V779.9M387.50 732.3V791.2M390.50 696.3V768.4M394.50 714.1V779.9M397.50 732.3V791.2M400.50 714.1V779.9M403.50 714.1V779.9M406.50 661.3V744.5M409.50 678.7V756.5M412.50 791.2V820.6M415.50 661.3V744.5M419.50 661.3V744.5M422.50 732.3V791.2M425.50 732.3V791.2M428.50 714.1V779.9M431.50 751.0V801.9M434.50 678.7V756.5M437.50 791.2V820.6M441.50 678.7V756.5M444.50 732.3V791.2M447.50 661.3V744.5M450.50 661.3V744.5M453.50 732.3V791.2M456.50 696.3V768.4M459.50 770.4V812.0M462.50 751.0V801.9M466.50 714.1V779.9M469.50 751.0V801.9M472.50 751.0V801.9M475.50 732.3V791.2M478.50 661.3V744.5M481.50 770.4V812.0M484.50 770.4V812.0M488.50 732.3V791.2M491.50 770.4V812.0M494.50 732.3V791.2M497.50 714.1V779.9M500.50 751.0V801.9M503.50 791.2V820.6M506.50 751.0V801.9M509.50 751.0V801.9M513.50 732.3V791.2M516.50 732.3V791.2M519.50 678.7V756.5M522.50 714.1V779.9M525.50 732.3V791.2M528.50 696.3V768.4M531.50 751.0V801.9M534.50 714.1V779.9M538.50 678.7V756.5M541.50 696.3V768.4M544.50 696.3V768.4M547.50 696.3V768.4"/>
<path class="ecd" d="M47.80 717.61L49.50 716.31L51.20 717.61L49.50 718.91ZM50.80 761.74L52.50 760.44L54.20 761.74L52.50 763.04ZM53.80 791.17L55.50 789.87L57.20 791.17L55.50 792.47ZM56.80 776.46L58.50 775.16L60.20 776.46L58.50 777.76ZM60.80 702.90L62.50 701.60L64.20 702.90L62.50 704.20ZM63.80 644.06L65.50 642.76L67.20 644.06L65.50 645.36ZM66.80 747.03L68.50 745.73L70.20 747.03L68.50 748.33ZM69.80 761.74L71.50 760.44L73.20 761.74L71.50 763.04ZM72.80 717.61L74.50 716.31L76.20 717.61L74.50 718.91ZM75.80 688.19L77.50 686.89L79.20 688.19L77.50 689.49ZM78.80 761.74L80.50 760.44L82.20 761.74L80.50 763.04ZM82.80 761.74L84.50 760.44L86.20 761.74L84.50 763.04ZM85.80 732.32L87.50 731.02L89.20 732.32L87.50 733.62ZM88.80 732.32L90.50 731.02L92.20 732.32L90.50 733.62ZM91.80 776.46L93.50 775.16L95.20 776.46L93.50 777.76ZM94.80 761.74L96.50 760.44L98.20 761.74L96.50 763.04ZM97.80 717.61L99.50 716.31L101.20 717.61L99.50 718.91ZM100.80 717.61L102.50 716.31L104.20 717.61L102.50 718.91ZM103.80 702.90L105.50 701.60L107.20 702.90L105.50 704.20ZM107.80 688.19L109.50 686.89L111.20 688.19L109.50 689.49ZM110.80 688.19L112.50 686.89L114.20 688.19L112.50 689.49ZM113.80 717.61L115.50 716.31L117.20 717.61L115.50 718.91ZM116.80 747.03L118.50 745.73L120.20 747.03L118.50 748.33ZM119.80 702.90L121.50 701.60L123.20 702.90L121.50 704.20ZM122.80 761.74L124.50 760.44L126.20 761.74L124.50 763.04ZM125.80 747.03L127.50 745.73L129.20 747.03L127.50 748.33ZM129.80 776.46L131.50 775.16L133.20 776.46L131.50 777.76ZM132.80 761.74L134.50 760.44L136.20 761.74L134.50 763.04ZM135.80 761.74L137.50 760.44L139.20 761.74L137.50 763.04ZM138.80 732.32L140.50 731.02L142.20 732.32L140.50 733.62ZM141.80 791.17L143.50 789.87L145.20 791.17L143.50 792.47ZM144.80 761.74L146.50 760.44L148.20 761.74L146.50 763.04ZM147.80 702.90L149.50 701.60L151.20 702.90L149.50 704.20ZM150.80 732.32L152.50 731.02L154.20 732.32L152.50 733.62ZM154.80 776.46L156.50 775.16L158.20 776.46L156.50 777.76ZM157.80 717.61L159.50 716.31L161.20 717.61L159.50 718.91ZM160.80 761.74L162.50 760.44L164.20 761.74L162.50 763.04ZM163.80 747.03L165.50 745.73L167.20 747.03L165.50 748.33ZM166.80 761.74L168.50 760.44L170.20 761.74L168.50 763.04ZM169.80 747.03L171.50 745.73L173.20 747.03L171.50 748.33ZM172.80 761.74L174.50 760.44L176.20 761.74L174.50 763.04ZM175.80 688.19L177.50 686.89L179.20 688.19L177.50 689.49ZM179.80 732.32L181.50 731.02L183.20 732.32L181.50 733.62ZM182.80 791.17L184.50 789.87L186.20 791.17L184.50 792.47ZM185.80 732.32L187.50 731.02L189.20 732.32L187.50 733.62ZM188.80 776.46L190.50 775.16L192.20 776.46L190.50 777.76ZM191.80 791.17L193.50 789.87L195.20 791.17L193.50 792.47ZM194.80 717.61L196.50 716.31L198.20 717.61L196.50 718.91ZM197.80 761.74L199.50 760.44L201.20 761.74L199.50 763.04ZM201.80 761.74L203.50 760.44L205.20 761.74L203.50 763.04ZM204.80 702.90L206.50 701.60L208.20 702.90L206.50 704.20ZM207.80 747.03L209.50 745.73L211.20 747.03L209.50 748.33ZM210.80 673.48L212.50 672.18L214.20 673.48L212.50 674.78ZM213.80 776.46L215.50 775.16L217.20 776.46L215.50 777.76ZM216.80 747.03L218.50 745.73L220.20 747.03L218.50 748.33ZM219.80 747.03L221.50 745.73L223.20 747.03L221.50 748.33ZM222.80 791.17L224.50 789.87L226.20 791.17L224.50 792.47ZM226.80 776.46L228.50 775.16L230.20 776.46L228.50 777.76ZM229.80 732.32L231.50 731.02L233.20 732.32L231.50 733.62ZM232.80 732.32L234.50 731.02L236.20 732.32L234.50 733.62ZM235.80 761.74L237.50 760.44L239.20 761.74L237.50 763.04ZM238.80 732.32L240.50 731.02L242.20 732.32L240.50 733.62ZM241.80 791.17L243.50 789.87L245.20 791.17L243.50 792.47ZM244.80 688.19L246.50 686.89L248.20 688.19L246.50 689.49ZM248.80 732.32L250.50 731.02L252.20 732.32L250.50 733.62ZM251.80 776.46L253.50 775.16L255.20 776.46L253.50 777.76ZM254.80 747.03L256.50 745.73L258.20 747.03L256.50 748.33ZM257.80 761.74L259.50 760.44L261.20 761.74L259.50 763.04ZM260.80 688.19L262.50 686.89L264.20 688.19L262.50 689.49ZM263.80 702.90L265.50 701.60L267.20 702.90L265.50 704.20ZM266.80 614.63L268.50 613.33L270.20 614.63L268.50 615.93ZM269.80 732.32L271.50 731.02L273.20 732.32L271.50 733.62ZM273.80 658.77L275.50 657.47L277.20 658.77L275.50 660.07ZM276.80 791.17L278.50 789.87L280.20 791.17L278.50 792.47ZM279.80 732.32L281.50 731.02L283.20 732.32L281.50 733.62ZM282.80 791.17L284.50 789.87L286.20 791.17L284.50 792.47ZM285.80 776.46L287.50 775.16L289.20 776.46L287.50 777.76ZM288.80 791.17L290.50 789.87L292.20 791.17L290.50 792.47ZM291.80 761.74L293.50 760.44L295.20 761.74L293.50 763.04ZM294.80 732.32L296.50 731.02L298.20 732.32L296.50 733.62ZM298.80 761.74L300.50 760.44L302.20 761.74L300.50 763.04ZM301.80 717.61L303.50 716.31L305.20 717.61L303.50 718.91ZM304.80 791.17L306.50 789.87L308.20 791.17L306.50 792.47ZM307.80 761.74L309.50 760.44L311.20 761.74L309.50 763.04ZM310.80 761.74L312.50 760.44L314.20 761.74L312.50 763.04ZM313.80 732.32L315.50 731.02L317.20 732.32L315.50 733.62ZM316.80 717.61L318.50 716.31L320.20 717.61L318.50 718.91ZM320.80 776.46L322.50 775.16L324.20 776.46L322.50 777.76ZM323.80 776.46L325.50 775.16L327.20 776.46L325.50 777.76ZM326.80 761.74L328.50 760.44L330.20 761.74L328.50 763.04ZM329.80 702.90L331.50 701.60L333.20 702.90L331.50 704.20ZM332.80 820.59L334.50 819.29L336.20 820.59L334.50 821.89ZM335.80 732.32L337.50 731.02L339.20 732.32L337.50 733.62ZM338.80 702.90L340.50 701.60L342.20 702.90L340.50 704.20ZM341.80 747.03L343.50 745.73L345.20 747.03L343.50 748.33ZM345.80 629.34L347.50 628.04L349.20 629.34L347.50 630.64ZM348.80 702.90L350.50 701.60L352.20 702.90L350.50 704.20ZM351.80 732.32L353.50 731.02L355.20 732.32L353.50 733.62ZM354.80 747.03L356.50 745.73L358.20 747.03L356.50 748.33ZM357.80 717.61L359.50 716.31L361.20 717.61L359.50 718.91ZM360.80 732.32L362.50 731.02L364.20 732.32L362.50 733.62ZM363.80 776.46L365.50 775.16L367.20 776.46L365.50 777.76ZM367.80 805.88L369.50 804.58L371.20 805.88L369.50 807.18ZM370.80 747.03L372.50 745.73L374.20 747.03L372.50 748.33ZM373.80 776.46L375.50 775.16L377.20 776.46L375.50 777.76ZM376.80 747.03L378.50 745.73L380.20 747.03L378.50 748.33ZM379.80 732.32L381.50 731.02L383.20 732.32L381.50 733.62ZM382.80 747.03L384.50 745.73L386.20 747.03L384.50 748.33ZM385.80 761.74L387.50 760.44L389.20 761.74L387.50 763.04ZM388.80 732.32L390.50 731.02L392.20 732.32L390.50 733.62ZM392.80 747.03L394.50 745.73L396.20 747.03L394.50 748.33ZM395.80 761.74L397.50 760.44L399.20 761.74L397.50 763.04ZM398.80 747.03L400.50 745.73L402.20 747.03L400.50 748.33ZM401.80 747.03L403.50 745.73L405.20 747.03L403.50 748.33ZM404.80 702.90L406.50 701.60L408.20 702.90L406.50 704.20ZM407.80 717.61L409.50 716.31L411.20 717.61L409.50 718.91ZM410.80 805.88L412.50 804.58L414.20 805.88L412.50 807.18ZM413.80 702.90L415.50 701.60L417.20 702.90L415.50 704.20ZM417.80 702.90L419.50 701.60L421.20 702.90L419.50 704.20ZM420.80 761.74L422.50 760.44L424.20 761.74L422.50 763.04ZM423.80 761.74L425.50 760.44L427.20 761.74L425.50 763.04ZM426.80 747.03L428.50 745.73L430.20 747.03L428.50 748.33ZM429.80 776.46L431.50 775.16L433.20 776.46L431.50 777.76ZM432.80 717.61L434.50 716.31L436.20 717.61L434.50 718.91ZM435.80 805.88L437.50 804.58L439.20 805.88L437.50 807.18ZM439.80 717.61L441.50 716.31L443.20 717.61L441.50 718.91ZM442.80 761.74L444.50 760.44L446.20 761.74L444.50 763.04ZM445.80 702.90L447.50 701.60L449.20 702.90L447.50 704.20ZM448.80 702.90L450.50 701.60L452.20 702.90L450.50 704.20ZM451.80 761.74L453.50 760.44L455.20 761.74L453.50 763.04ZM454.80 732.32L456.50 731.02L458.20 732.32L456.50 733.62ZM457.80 791.17L459.50 789.87L461.20 791.17L459.50 792.47ZM460.80 776.46L462.50 775.16L464.20 776.46L462.50 777.76ZM464.80 747.03L466.50 745.73L468.20 747.03L466.50 748.33ZM467.80 776.46L469.50 775.16L471.20 776.46L469.50 777.76ZM470.80 776.46L472.50 775.16L474.20 776.46L472.50 777.76ZM473.80 761.74L475.50 760.44L477.20 761.74L475.50 763.04ZM476.80 702.90L478.50 701.60L480.20 702.90L478.50 704.20ZM479.80 791.17L481.50 789.87L483.20 791.17L481.50 792.47ZM482.80 791.17L484.50 789.87L486.20 791.17L484.50 792.47ZM486.80 761.74L488.50 760.44L490.20 761.74L488.50 763.04ZM489.80 791.17L491.50 789.87L493.20 791.17L491.50 792.47ZM492.80 761.74L494.50 760.44L496.20 761.74L494.50 763.04ZM495.80 747.03L497.50 745.73L499.20 747.03L497.50 748.33ZM498.80 776.46L500.50 775.16L502.20 776.46L500.50 777.76ZM501.80 805.88L503.50 804.58L505.20 805.88L503.50 807.18ZM504.80 776.46L506.50 775.16L508.20 776.46L506.50 777.76ZM507.80 776.46L509.50 775.16L511.20 776.46L509.50 777.76ZM511.80 761.74L513.50 760.44L515.20 761.74L513.50 763.04ZM514.80 761.74L516.50 760.44L518.20 761.74L516.50 763.04ZM517.80 717.61L519.50 716.31L521.20 717.61L519.50 718.91ZM520.80 747.03L522.50 745.73L524.20 747.03L522.50 748.33ZM523.80 761.74L525.50 760.44L527.20 761.74L525.50 763.04ZM526.80 732.32L528.50 731.02L530.20 732.32L528.50 733.62ZM529.80 776.46L531.50 775.16L533.20 776.46L531.50 777.76ZM532.80 747.03L534.50 745.73L536.20 747.03L534.50 748.33ZM536.80 717.61L538.50 716.31L540.20 717.61L538.50 718.91ZM539.80 732.32L541.50 731.02L543.20 732.32L541.50 733.62ZM542.80 732.32L544.50 731.02L546.20 732.32L544.50 733.62ZM545.80 732.32L547.50 731.02L549.20 732.32L547.50 733.62Z"/>
<line x1="173.62" y1="24.20" x2="173.62" y2="258.40" stroke="#6e6e6e" stroke-width="1"/>
<line x1="170.62" y1="224.94" x2="173.62" y2="224.94" stroke="#6e6e6e" stroke-width="1"/>
<line x1="170.62" y1="191.49" x2="173.62" y2="191.49" stroke="#6e6e6e" stroke-width="1"/>
<line x1="170.62" y1="158.03" x2="173.62" y2="158.03" stroke="#6e6e6e" stroke-width="1"/>
<line x1="170.62" y1="124.57" x2="173.62" y2="124.57" stroke="#6e6e6e" stroke-width="1"/>
<line x1="170.62" y1="91.11" x2="173.62" y2="91.11" stroke="#6e6e6e" stroke-width="1"/>
<line x1="170.62" y1="57.66" x2="173.62" y2="57.66" stroke="#6e6e6e" stroke-width="1"/>
<line x1="170.62" y1="24.20" x2="173.62" y2="24.20" stroke="#6e6e6e" stroke-width="1"/>
<line x1="47.80" y1="258.40" x2="550.10" y2="258.40" stroke="#787878" stroke-width="1.2"/>
<line x1="48.30" y1="258.40" x2="48.30" y2="261.90" stroke="#787878" stroke-width="1"/>
<line x1="110.96" y1="258.40" x2="110.96" y2="261.90" stroke="#787878" stroke-width="1"/>
<line x1="173.62" y1="258.40" x2="173.62" y2="261.90" stroke="#787878" stroke-width="1"/>
<line x1="236.29" y1="258.40" x2="236.29" y2="261.90" stroke="#787878" stroke-width="1"/>
<line x1="298.95" y1="258.40" x2="298.95" y2="261.90" stroke="#787878" stroke-width="1"/>
<line x1="361.61" y1="258.40" x2="361.61" y2="261.90" stroke="#787878" stroke-width="1"/>
<line x1="424.28" y1="258.40" x2="424.28" y2="261.90" stroke="#787878" stroke-width="1"/>
<line x1="486.94" y1="258.40" x2="486.94" y2="261.90" stroke="#787878" stroke-width="1"/>
<line x1="549.60" y1="258.40" x2="549.60" y2="261.90" stroke="#787878" stroke-width="1"/>
<line x1="47.50" y1="530.30" x2="548.90" y2="530.30" stroke="#787878" stroke-width="1.2"/>
<line x1="48.00" y1="530.30" x2="48.00" y2="533.80" stroke="#787878" stroke-width="1"/>
<line x1="148.08" y1="530.30" x2="148.08" y2="533.80" stroke="#787878" stroke-width="1"/>
<line x1="248.16" y1="530.30" x2="248.16" y2="533.80" stroke="#787878" stroke-width="1"/>
<line x1="348.24" y1="530.30" x2="348.24" y2="533.80" stroke="#787878" stroke-width="1"/>
<line x1="448.32" y1="530.30" x2="448.32" y2="533.80" stroke="#787878" stroke-width="1"/>
<line x1="548.40" y1="530.30" x2="548.40" y2="533.80" stroke="#787878" stroke-width="1"/>
<line x1="47.50" y1="835.30" x2="549.00" y2="835.30" stroke="#787878" stroke-width="1.2"/>
<line x1="48.00" y1="835.30" x2="48.00" y2="838.80" stroke="#787878" stroke-width="1"/>
<line x1="173.13" y1="835.30" x2="173.13" y2="838.80" stroke="#787878" stroke-width="1"/>
<line x1="298.25" y1="835.30" x2="298.25" y2="838.80" stroke="#787878" stroke-width="1"/>
<line x1="423.37" y1="835.30" x2="423.37" y2="838.80" stroke="#787878" stroke-width="1"/>
<line x1="548.50" y1="835.30" x2="548.50" y2="838.80" stroke="#787878" stroke-width="1"/>
<text transform="translate(48.30,275.60) scale(0.975,1.085)" text-anchor="middle" class="tk">-40</text>
<text transform="translate(110.96,275.60) scale(0.975,1.085)" text-anchor="middle" class="tk">-20</text>
<text transform="translate(173.62,275.60) scale(0.975,1.085)" text-anchor="middle" class="tk">0</text>
<text transform="translate(236.29,275.60) scale(0.975,1.085)" text-anchor="middle" class="tk">20</text>
<text transform="translate(298.95,275.60) scale(0.975,1.085)" text-anchor="middle" class="tk">40</text>
<text transform="translate(361.61,275.60) scale(0.975,1.085)" text-anchor="middle" class="tk">60</text>
<text transform="translate(424.28,275.60) scale(0.975,1.085)" text-anchor="middle" class="tk">80</text>
<text transform="translate(486.94,275.60) scale(0.975,1.085)" text-anchor="middle" class="tk">100</text>
<text transform="translate(549.60,275.60) scale(0.975,1.085)" text-anchor="middle" class="tk">120</text>
<text transform="translate(39.30,262.30) scale(0.975,1.085)" text-anchor="end" class="tk">-200</text>
<text transform="translate(39.30,228.84) scale(0.975,1.085)" text-anchor="end" class="tk">-100</text>
<text transform="translate(39.30,195.39) scale(0.975,1.085)" text-anchor="end" class="tk">0</text>
<text transform="translate(39.30,161.93) scale(0.975,1.085)" text-anchor="end" class="tk">100</text>
<text transform="translate(39.30,128.47) scale(0.975,1.085)" text-anchor="end" class="tk">200</text>
<text transform="translate(39.30,95.01) scale(0.975,1.085)" text-anchor="end" class="tk">300</text>
<text transform="translate(39.30,61.56) scale(0.975,1.085)" text-anchor="end" class="tk">400</text>
<text transform="translate(39.30,28.10) scale(0.975,1.085)" text-anchor="end" class="tk">500</text>
<text transform="translate(48.00,546.50) scale(1.0,1.085)" text-anchor="middle" class="tk">-20</text>
<text transform="translate(148.08,546.50) scale(1.0,1.085)" text-anchor="middle" class="tk">-15</text>
<text transform="translate(248.16,546.50) scale(1.0,1.085)" text-anchor="middle" class="tk">-10</text>
<text transform="translate(348.24,546.50) scale(1.0,1.085)" text-anchor="middle" class="tk">-5</text>
<text transform="translate(448.32,546.50) scale(1.0,1.085)" text-anchor="middle" class="tk">0</text>
<text transform="translate(548.40,546.50) scale(1.0,1.085)" text-anchor="middle" class="tk">5</text>
<text transform="translate(38.00,534.20) scale(1.0,1.085)" text-anchor="end" class="tk">-200</text>
<text transform="translate(38.00,500.73) scale(1.0,1.085)" text-anchor="end" class="tk">-100</text>
<text transform="translate(38.00,467.26) scale(1.0,1.085)" text-anchor="end" class="tk">0</text>
<text transform="translate(38.00,433.79) scale(1.0,1.085)" text-anchor="end" class="tk">100</text>
<text transform="translate(38.00,400.31) scale(1.0,1.085)" text-anchor="end" class="tk">200</text>
<text transform="translate(38.00,366.84) scale(1.0,1.085)" text-anchor="end" class="tk">300</text>
<text transform="translate(38.00,333.37) scale(1.0,1.085)" text-anchor="end" class="tk">400</text>
<text transform="translate(38.00,303.50) scale(1.0,1.085)" text-anchor="end" class="tk">500</text>
<text transform="translate(48.00,852.00) scale(0.975,1.085)" text-anchor="middle" class="tk">-8.6</text>
<text transform="translate(173.13,852.00) scale(0.975,1.085)" text-anchor="middle" class="tk">-8.2</text>
<text transform="translate(298.25,852.00) scale(0.975,1.085)" text-anchor="middle" class="tk">-7.8</text>
<text transform="translate(423.37,852.00) scale(0.975,1.085)" text-anchor="middle" class="tk">-7.4</text>
<text transform="translate(548.50,852.00) scale(0.975,1.085)" text-anchor="middle" class="tk">-7</text>
<text transform="translate(38.20,839.20) scale(0.975,1.085)" text-anchor="end" class="tk">-400</text>
<text transform="translate(38.20,809.78) scale(0.975,1.085)" text-anchor="end" class="tk">-200</text>
<text transform="translate(38.20,780.36) scale(0.975,1.085)" text-anchor="end" class="tk">0</text>
<text transform="translate(38.20,750.93) scale(0.975,1.085)" text-anchor="end" class="tk">200</text>
<text transform="translate(38.20,721.51) scale(0.975,1.085)" text-anchor="end" class="tk">400</text>
<text transform="translate(38.20,692.09) scale(0.975,1.085)" text-anchor="end" class="tk">600</text>
<text transform="translate(38.20,662.67) scale(0.975,1.085)" text-anchor="end" class="tk">800</text>
<text transform="translate(38.20,633.24) scale(0.975,1.085)" text-anchor="end" class="tk">1000</text>
<text transform="translate(38.20,603.82) scale(0.975,1.085)" text-anchor="end" class="tk">1200</text>
<text transform="translate(38.20,574.40) scale(0.975,1.085)" text-anchor="end" class="tk">1400</text>
<text x="255.10" y="287.40" class="xt"><tspan class="xts">T - T</tspan></text>
<text x="283.20" y="290.00" class="xsub">O</text>
<text x="290.90" y="287.40" class="xt">, seconds</text>
<text x="255.50" y="559.30" class="xt"><tspan class="xts">T - T</tspan></text>
<text x="283.60" y="561.90" class="xsub">O</text>
<text x="291.30" y="559.30" class="xt">, seconds</text>
<text x="257.20" y="869.10" class="xt"><tspan class="xts">T - T</tspan></text>
<text x="285.30" y="871.70" class="xsub">O</text>
<text x="293.00" y="869.10" class="xt">, seconds</text>
<text transform="translate(11.2,157.00) rotate(-90)" text-anchor="middle" class="yt">BDRG2 counts/s</text>
<text transform="translate(11.2,428.60) rotate(-90)" text-anchor="middle" class="yt">BDRG2 counts/s</text>
<text transform="translate(11.2,702.00) rotate(-90)" text-anchor="middle" class="yt">BDRG2 counts/s</text>
<text x="56.8" y="43.7" class="pl">a<tspan dx="0.6">)</tspan></text>
<text x="55.8" y="316" class="pl">b<tspan dx="1.3">)</tspan></text>
<text x="55.6" y="586" class="pl">c<tspan dx="1.1">)</tspan></text>
<text x="538.2" y="46" text-anchor="end" class="dt">ΔT=0.1s</text>
<text x="530" y="316.3" text-anchor="end" class="dt">ΔT=0.1s</text>
<text x="530" y="589.4" text-anchor="end" class="dt">ΔT=0.01s</text>
<rect x="110.7" y="27.2" width="80.3" height="3.3" fill="#e8141c"/>
<text x="195.5" y="34.5" class="rl">b</text>
<rect x="276.1" y="299" width="33" height="3.3" fill="#e8141c"/>
<text x="314.4" y="304.6" class="rl">c</text>
<text x="103.4" y="9" class="hd">BDRG2, events in NaI, 15-600 keV</text>
<text x="337.1" y="9" class="hd">October 17, 2016</text>
<text x="451.6" y="9" class="hd">T<tspan class="hsub" dy="2">O</tspan><tspan dy="-2" dx="0.8">=17:52:17 UT</tspan></text>
</svg></body></html>
